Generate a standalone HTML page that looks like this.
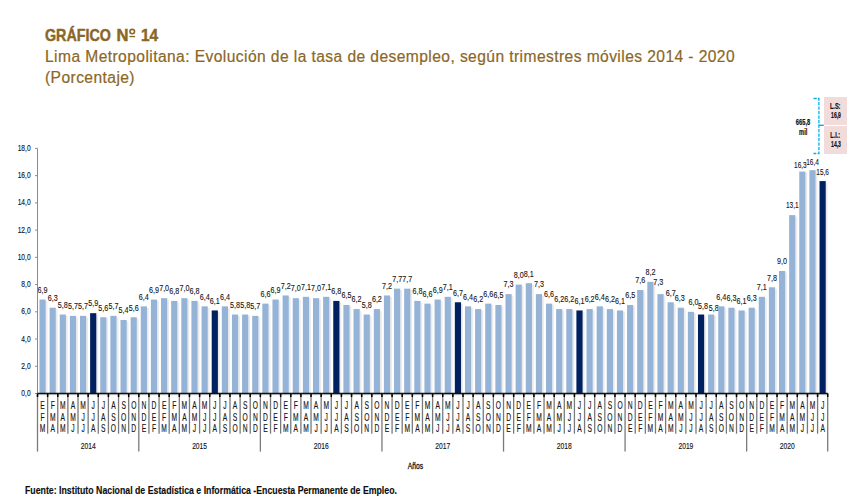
<!DOCTYPE html>
<html><head><meta charset="utf-8"><style>
html,body{margin:0;padding:0;background:#fff;}
body{width:860px;height:503px;overflow:hidden;position:relative;font-family:"Liberation Sans", sans-serif;}
.t{position:absolute;left:45px;color:#8a6726;white-space:nowrap;-webkit-text-stroke:0.2px #8a6726;font-family:"Liberation Sans", sans-serif;line-height:20px;}
#t1,.t1b{top:25.6px;font-size:16.6px;font-weight:bold;-webkit-text-stroke:0.45px #8a6726;transform-origin:0 0;}
#t1{transform:scaleX(0.86);}
#t2{top:46.6px;font-size:15.6px;letter-spacing:0.42px;}
#t3{top:67.6px;font-size:15.6px;letter-spacing:0.42px;}
svg{position:absolute;left:0;top:0;}
svg text{font-family:"Liberation Sans", sans-serif;}
</style></head><body>
<div class="t" id="t1">GRÁFICO</div><div class="t t1b" style="left:116.5px">N</div><div class="t t1b" style="left:140.6px;transform:scaleX(0.93)">14</div>
<div class="t" id="t2">Lima Metropolitana: Evolución de la tasa de desempleo, según trimestres móviles 2014 - 2020</div>
<div class="t" id="t3">(Porcentaje)</div>
<svg width="860" height="503" viewBox="0 0 860 503">
<rect x="45.67" y="301.04" width="1.8" height="92.46" fill="#ebebeb"/>
<rect x="39.47" y="299.54" width="6.2" height="93.96" fill="#95b3d7"/>
<text transform="translate(42.57,292.84) scale(0.75,1)" font-size="9.6" text-anchor="middle" font-weight="normal" fill="#141414" stroke="#141414" stroke-width="0.12">6,9</text>
<rect x="55.80" y="309.22" width="1.8" height="84.28" fill="#ebebeb"/>
<rect x="49.60" y="307.72" width="6.2" height="85.78" fill="#95b3d7"/>
<text transform="translate(52.70,301.02) scale(0.75,1)" font-size="9.6" text-anchor="middle" font-weight="normal" fill="#141414" stroke="#141414" stroke-width="0.12">6,3</text>
<rect x="65.93" y="316.02" width="1.8" height="77.48" fill="#ebebeb"/>
<rect x="59.73" y="314.52" width="6.2" height="78.98" fill="#95b3d7"/>
<text transform="translate(62.83,307.82) scale(0.75,1)" font-size="9.6" text-anchor="middle" font-weight="normal" fill="#141414" stroke="#141414" stroke-width="0.12">5,8</text>
<rect x="76.06" y="317.38" width="1.8" height="76.12" fill="#ebebeb"/>
<rect x="69.86" y="315.88" width="6.2" height="77.62" fill="#95b3d7"/>
<text transform="translate(72.96,309.19) scale(0.75,1)" font-size="9.6" text-anchor="middle" font-weight="normal" fill="#141414" stroke="#141414" stroke-width="0.12">5,7</text>
<rect x="86.19" y="317.38" width="1.8" height="76.12" fill="#ebebeb"/>
<rect x="79.99" y="315.88" width="6.2" height="77.62" fill="#95b3d7"/>
<text transform="translate(83.09,309.19) scale(0.75,1)" font-size="9.6" text-anchor="middle" font-weight="normal" fill="#141414" stroke="#141414" stroke-width="0.12">5,7</text>
<rect x="96.32" y="314.66" width="1.8" height="78.84" fill="#ebebeb"/>
<rect x="90.12" y="313.16" width="6.2" height="80.34" fill="#002060"/>
<text transform="translate(93.22,306.46) scale(0.75,1)" font-size="9.6" text-anchor="middle" font-weight="normal" fill="#141414" stroke="#141414" stroke-width="0.12">5,9</text>
<rect x="106.45" y="318.75" width="1.8" height="74.75" fill="#ebebeb"/>
<rect x="100.25" y="317.25" width="6.2" height="76.25" fill="#95b3d7"/>
<text transform="translate(103.35,310.55) scale(0.75,1)" font-size="9.6" text-anchor="middle" font-weight="normal" fill="#141414" stroke="#141414" stroke-width="0.12">5,6</text>
<rect x="116.58" y="317.38" width="1.8" height="76.12" fill="#ebebeb"/>
<rect x="110.38" y="315.88" width="6.2" height="77.62" fill="#95b3d7"/>
<text transform="translate(113.48,309.19) scale(0.75,1)" font-size="9.6" text-anchor="middle" font-weight="normal" fill="#141414" stroke="#141414" stroke-width="0.12">5,7</text>
<rect x="126.71" y="321.47" width="1.8" height="72.03" fill="#ebebeb"/>
<rect x="120.51" y="319.97" width="6.2" height="73.53" fill="#95b3d7"/>
<text transform="translate(123.61,313.27) scale(0.75,1)" font-size="9.6" text-anchor="middle" font-weight="normal" fill="#141414" stroke="#141414" stroke-width="0.12">5,4</text>
<rect x="136.84" y="318.75" width="1.8" height="74.75" fill="#ebebeb"/>
<rect x="130.64" y="317.25" width="6.2" height="76.25" fill="#95b3d7"/>
<text transform="translate(133.74,310.55) scale(0.75,1)" font-size="9.6" text-anchor="middle" font-weight="normal" fill="#141414" stroke="#141414" stroke-width="0.12">5,6</text>
<rect x="146.97" y="307.85" width="1.8" height="85.65" fill="#ebebeb"/>
<rect x="140.77" y="306.35" width="6.2" height="87.15" fill="#95b3d7"/>
<text transform="translate(143.87,299.65) scale(0.75,1)" font-size="9.6" text-anchor="middle" font-weight="normal" fill="#141414" stroke="#141414" stroke-width="0.12">6,4</text>
<rect x="157.10" y="301.04" width="1.8" height="92.46" fill="#ebebeb"/>
<rect x="150.90" y="299.54" width="6.2" height="93.96" fill="#95b3d7"/>
<text transform="translate(154.00,292.84) scale(0.75,1)" font-size="9.6" text-anchor="middle" font-weight="normal" fill="#141414" stroke="#141414" stroke-width="0.12">6,9</text>
<rect x="167.23" y="299.68" width="1.8" height="93.82" fill="#ebebeb"/>
<rect x="161.03" y="298.18" width="6.2" height="95.32" fill="#95b3d7"/>
<text transform="translate(164.13,291.48) scale(0.75,1)" font-size="9.6" text-anchor="middle" font-weight="normal" fill="#141414" stroke="#141414" stroke-width="0.12">7,0</text>
<rect x="177.37" y="302.41" width="1.8" height="91.09" fill="#ebebeb"/>
<rect x="171.17" y="300.91" width="6.2" height="92.59" fill="#95b3d7"/>
<text transform="translate(174.27,294.21) scale(0.75,1)" font-size="9.6" text-anchor="middle" font-weight="normal" fill="#141414" stroke="#141414" stroke-width="0.12">6,8</text>
<rect x="187.50" y="299.68" width="1.8" height="93.82" fill="#ebebeb"/>
<rect x="181.30" y="298.18" width="6.2" height="95.32" fill="#95b3d7"/>
<text transform="translate(184.40,291.48) scale(0.75,1)" font-size="9.6" text-anchor="middle" font-weight="normal" fill="#141414" stroke="#141414" stroke-width="0.12">7,0</text>
<rect x="197.63" y="302.41" width="1.8" height="91.09" fill="#ebebeb"/>
<rect x="191.43" y="300.91" width="6.2" height="92.59" fill="#95b3d7"/>
<text transform="translate(194.53,294.21) scale(0.75,1)" font-size="9.6" text-anchor="middle" font-weight="normal" fill="#141414" stroke="#141414" stroke-width="0.12">6,8</text>
<rect x="207.76" y="307.85" width="1.8" height="85.65" fill="#ebebeb"/>
<rect x="201.56" y="306.35" width="6.2" height="87.15" fill="#95b3d7"/>
<text transform="translate(204.66,299.65) scale(0.75,1)" font-size="9.6" text-anchor="middle" font-weight="normal" fill="#141414" stroke="#141414" stroke-width="0.12">6,4</text>
<rect x="217.89" y="311.94" width="1.8" height="81.56" fill="#ebebeb"/>
<rect x="211.69" y="310.44" width="6.2" height="83.06" fill="#002060"/>
<text transform="translate(214.79,303.74) scale(0.75,1)" font-size="9.6" text-anchor="middle" font-weight="normal" fill="#141414" stroke="#141414" stroke-width="0.12">6,1</text>
<rect x="228.02" y="307.85" width="1.8" height="85.65" fill="#ebebeb"/>
<rect x="221.82" y="306.35" width="6.2" height="87.15" fill="#95b3d7"/>
<text transform="translate(224.92,299.65) scale(0.75,1)" font-size="9.6" text-anchor="middle" font-weight="normal" fill="#141414" stroke="#141414" stroke-width="0.12">6,4</text>
<rect x="238.15" y="316.02" width="1.8" height="77.48" fill="#ebebeb"/>
<rect x="231.95" y="314.52" width="6.2" height="78.98" fill="#95b3d7"/>
<text transform="translate(235.05,307.82) scale(0.75,1)" font-size="9.6" text-anchor="middle" font-weight="normal" fill="#141414" stroke="#141414" stroke-width="0.12">5,8</text>
<rect x="248.28" y="316.02" width="1.8" height="77.48" fill="#ebebeb"/>
<rect x="242.08" y="314.52" width="6.2" height="78.98" fill="#95b3d7"/>
<text transform="translate(245.18,307.82) scale(0.75,1)" font-size="9.6" text-anchor="middle" font-weight="normal" fill="#141414" stroke="#141414" stroke-width="0.12">5,8</text>
<rect x="258.41" y="317.38" width="1.8" height="76.12" fill="#ebebeb"/>
<rect x="252.21" y="315.88" width="6.2" height="77.62" fill="#95b3d7"/>
<text transform="translate(255.31,309.19) scale(0.75,1)" font-size="9.6" text-anchor="middle" font-weight="normal" fill="#141414" stroke="#141414" stroke-width="0.12">5,7</text>
<rect x="268.54" y="305.13" width="1.8" height="88.37" fill="#ebebeb"/>
<rect x="262.34" y="303.63" width="6.2" height="89.87" fill="#95b3d7"/>
<text transform="translate(265.44,296.93) scale(0.75,1)" font-size="9.6" text-anchor="middle" font-weight="normal" fill="#141414" stroke="#141414" stroke-width="0.12">6,6</text>
<rect x="278.67" y="301.04" width="1.8" height="92.46" fill="#ebebeb"/>
<rect x="272.47" y="299.54" width="6.2" height="93.96" fill="#95b3d7"/>
<text transform="translate(275.57,292.84) scale(0.75,1)" font-size="9.6" text-anchor="middle" font-weight="normal" fill="#141414" stroke="#141414" stroke-width="0.12">6,9</text>
<rect x="288.80" y="296.96" width="1.8" height="96.54" fill="#ebebeb"/>
<rect x="282.60" y="295.46" width="6.2" height="98.04" fill="#95b3d7"/>
<text transform="translate(285.70,288.76) scale(0.75,1)" font-size="9.6" text-anchor="middle" font-weight="normal" fill="#141414" stroke="#141414" stroke-width="0.12">7,2</text>
<rect x="298.93" y="299.68" width="1.8" height="93.82" fill="#ebebeb"/>
<rect x="292.73" y="298.18" width="6.2" height="95.32" fill="#95b3d7"/>
<text transform="translate(295.83,291.48) scale(0.75,1)" font-size="9.6" text-anchor="middle" font-weight="normal" fill="#141414" stroke="#141414" stroke-width="0.12">7,0</text>
<rect x="309.07" y="298.32" width="1.8" height="95.18" fill="#ebebeb"/>
<rect x="302.87" y="296.82" width="6.2" height="96.68" fill="#95b3d7"/>
<text transform="translate(305.97,290.12) scale(0.75,1)" font-size="9.6" text-anchor="middle" font-weight="normal" fill="#141414" stroke="#141414" stroke-width="0.12">7,1</text>
<rect x="319.20" y="299.68" width="1.8" height="93.82" fill="#ebebeb"/>
<rect x="313.00" y="298.18" width="6.2" height="95.32" fill="#95b3d7"/>
<text transform="translate(316.10,291.48) scale(0.75,1)" font-size="9.6" text-anchor="middle" font-weight="normal" fill="#141414" stroke="#141414" stroke-width="0.12">7,0</text>
<rect x="329.33" y="298.32" width="1.8" height="95.18" fill="#ebebeb"/>
<rect x="323.13" y="296.82" width="6.2" height="96.68" fill="#95b3d7"/>
<text transform="translate(326.23,290.12) scale(0.75,1)" font-size="9.6" text-anchor="middle" font-weight="normal" fill="#141414" stroke="#141414" stroke-width="0.12">7,1</text>
<rect x="339.46" y="302.41" width="1.8" height="91.09" fill="#ebebeb"/>
<rect x="333.26" y="300.91" width="6.2" height="92.59" fill="#002060"/>
<text transform="translate(336.36,294.21) scale(0.75,1)" font-size="9.6" text-anchor="middle" font-weight="normal" fill="#141414" stroke="#141414" stroke-width="0.12">6,8</text>
<rect x="349.59" y="306.49" width="1.8" height="87.01" fill="#ebebeb"/>
<rect x="343.39" y="304.99" width="6.2" height="88.51" fill="#95b3d7"/>
<text transform="translate(346.49,298.29) scale(0.75,1)" font-size="9.6" text-anchor="middle" font-weight="normal" fill="#141414" stroke="#141414" stroke-width="0.12">6,5</text>
<rect x="359.72" y="310.58" width="1.8" height="82.92" fill="#ebebeb"/>
<rect x="353.52" y="309.08" width="6.2" height="84.42" fill="#95b3d7"/>
<text transform="translate(356.62,302.38) scale(0.75,1)" font-size="9.6" text-anchor="middle" font-weight="normal" fill="#141414" stroke="#141414" stroke-width="0.12">6,2</text>
<rect x="369.85" y="316.02" width="1.8" height="77.48" fill="#ebebeb"/>
<rect x="363.65" y="314.52" width="6.2" height="78.98" fill="#95b3d7"/>
<text transform="translate(366.75,307.82) scale(0.75,1)" font-size="9.6" text-anchor="middle" font-weight="normal" fill="#141414" stroke="#141414" stroke-width="0.12">5,8</text>
<rect x="379.98" y="310.58" width="1.8" height="82.92" fill="#ebebeb"/>
<rect x="373.78" y="309.08" width="6.2" height="84.42" fill="#95b3d7"/>
<text transform="translate(376.88,302.38) scale(0.75,1)" font-size="9.6" text-anchor="middle" font-weight="normal" fill="#141414" stroke="#141414" stroke-width="0.12">6,2</text>
<rect x="390.11" y="296.96" width="1.8" height="96.54" fill="#ebebeb"/>
<rect x="383.91" y="295.46" width="6.2" height="98.04" fill="#95b3d7"/>
<text transform="translate(387.01,288.76) scale(0.75,1)" font-size="9.6" text-anchor="middle" font-weight="normal" fill="#141414" stroke="#141414" stroke-width="0.12">7,2</text>
<rect x="400.24" y="290.15" width="1.8" height="103.35" fill="#ebebeb"/>
<rect x="394.04" y="288.65" width="6.2" height="104.85" fill="#95b3d7"/>
<text transform="translate(397.14,281.95) scale(0.75,1)" font-size="9.6" text-anchor="middle" font-weight="normal" fill="#141414" stroke="#141414" stroke-width="0.12">7,7</text>
<rect x="410.37" y="290.15" width="1.8" height="103.35" fill="#ebebeb"/>
<rect x="404.17" y="288.65" width="6.2" height="104.85" fill="#95b3d7"/>
<text transform="translate(407.27,281.95) scale(0.75,1)" font-size="9.6" text-anchor="middle" font-weight="normal" fill="#141414" stroke="#141414" stroke-width="0.12">7,7</text>
<rect x="420.50" y="302.41" width="1.8" height="91.09" fill="#ebebeb"/>
<rect x="414.30" y="300.91" width="6.2" height="92.59" fill="#95b3d7"/>
<text transform="translate(417.40,294.21) scale(0.75,1)" font-size="9.6" text-anchor="middle" font-weight="normal" fill="#141414" stroke="#141414" stroke-width="0.12">6,8</text>
<rect x="430.63" y="305.13" width="1.8" height="88.37" fill="#ebebeb"/>
<rect x="424.43" y="303.63" width="6.2" height="89.87" fill="#95b3d7"/>
<text transform="translate(427.53,296.93) scale(0.75,1)" font-size="9.6" text-anchor="middle" font-weight="normal" fill="#141414" stroke="#141414" stroke-width="0.12">6,6</text>
<rect x="440.77" y="301.04" width="1.8" height="92.46" fill="#ebebeb"/>
<rect x="434.57" y="299.54" width="6.2" height="93.96" fill="#95b3d7"/>
<text transform="translate(437.67,292.84) scale(0.75,1)" font-size="9.6" text-anchor="middle" font-weight="normal" fill="#141414" stroke="#141414" stroke-width="0.12">6,9</text>
<rect x="450.90" y="298.32" width="1.8" height="95.18" fill="#ebebeb"/>
<rect x="444.70" y="296.82" width="6.2" height="96.68" fill="#95b3d7"/>
<text transform="translate(447.80,290.12) scale(0.75,1)" font-size="9.6" text-anchor="middle" font-weight="normal" fill="#141414" stroke="#141414" stroke-width="0.12">7,1</text>
<rect x="461.03" y="303.77" width="1.8" height="89.73" fill="#ebebeb"/>
<rect x="454.83" y="302.27" width="6.2" height="91.23" fill="#002060"/>
<text transform="translate(457.93,295.57) scale(0.75,1)" font-size="9.6" text-anchor="middle" font-weight="normal" fill="#141414" stroke="#141414" stroke-width="0.12">6,7</text>
<rect x="471.16" y="307.85" width="1.8" height="85.65" fill="#ebebeb"/>
<rect x="464.96" y="306.35" width="6.2" height="87.15" fill="#95b3d7"/>
<text transform="translate(468.06,299.65) scale(0.75,1)" font-size="9.6" text-anchor="middle" font-weight="normal" fill="#141414" stroke="#141414" stroke-width="0.12">6,4</text>
<rect x="481.29" y="310.58" width="1.8" height="82.92" fill="#ebebeb"/>
<rect x="475.09" y="309.08" width="6.2" height="84.42" fill="#95b3d7"/>
<text transform="translate(478.19,302.38) scale(0.75,1)" font-size="9.6" text-anchor="middle" font-weight="normal" fill="#141414" stroke="#141414" stroke-width="0.12">6,2</text>
<rect x="491.42" y="305.13" width="1.8" height="88.37" fill="#ebebeb"/>
<rect x="485.22" y="303.63" width="6.2" height="89.87" fill="#95b3d7"/>
<text transform="translate(488.32,296.93) scale(0.75,1)" font-size="9.6" text-anchor="middle" font-weight="normal" fill="#141414" stroke="#141414" stroke-width="0.12">6,6</text>
<rect x="501.55" y="306.49" width="1.8" height="87.01" fill="#ebebeb"/>
<rect x="495.35" y="304.99" width="6.2" height="88.51" fill="#95b3d7"/>
<text transform="translate(498.45,298.29) scale(0.75,1)" font-size="9.6" text-anchor="middle" font-weight="normal" fill="#141414" stroke="#141414" stroke-width="0.12">6,5</text>
<rect x="511.68" y="295.60" width="1.8" height="97.90" fill="#ebebeb"/>
<rect x="505.48" y="294.10" width="6.2" height="99.40" fill="#95b3d7"/>
<text transform="translate(508.58,287.40) scale(0.75,1)" font-size="9.6" text-anchor="middle" font-weight="normal" fill="#141414" stroke="#141414" stroke-width="0.12">7,3</text>
<rect x="521.81" y="286.07" width="1.8" height="107.43" fill="#ebebeb"/>
<rect x="515.61" y="284.57" width="6.2" height="108.93" fill="#95b3d7"/>
<text transform="translate(518.71,277.87) scale(0.75,1)" font-size="9.6" text-anchor="middle" font-weight="normal" fill="#141414" stroke="#141414" stroke-width="0.12">8,0</text>
<rect x="531.94" y="284.70" width="1.8" height="108.80" fill="#ebebeb"/>
<rect x="525.74" y="283.20" width="6.2" height="110.30" fill="#95b3d7"/>
<text transform="translate(528.84,276.50) scale(0.75,1)" font-size="9.6" text-anchor="middle" font-weight="normal" fill="#141414" stroke="#141414" stroke-width="0.12">8,1</text>
<rect x="542.07" y="295.60" width="1.8" height="97.90" fill="#ebebeb"/>
<rect x="535.87" y="294.10" width="6.2" height="99.40" fill="#95b3d7"/>
<text transform="translate(538.97,287.40) scale(0.75,1)" font-size="9.6" text-anchor="middle" font-weight="normal" fill="#141414" stroke="#141414" stroke-width="0.12">7,3</text>
<rect x="552.20" y="305.13" width="1.8" height="88.37" fill="#ebebeb"/>
<rect x="546.00" y="303.63" width="6.2" height="89.87" fill="#95b3d7"/>
<text transform="translate(549.10,296.93) scale(0.75,1)" font-size="9.6" text-anchor="middle" font-weight="normal" fill="#141414" stroke="#141414" stroke-width="0.12">6,6</text>
<rect x="562.33" y="310.58" width="1.8" height="82.92" fill="#ebebeb"/>
<rect x="556.13" y="309.08" width="6.2" height="84.42" fill="#95b3d7"/>
<text transform="translate(559.23,302.38) scale(0.75,1)" font-size="9.6" text-anchor="middle" font-weight="normal" fill="#141414" stroke="#141414" stroke-width="0.12">6,2</text>
<rect x="572.47" y="310.58" width="1.8" height="82.92" fill="#ebebeb"/>
<rect x="566.27" y="309.08" width="6.2" height="84.42" fill="#95b3d7"/>
<text transform="translate(569.37,302.38) scale(0.75,1)" font-size="9.6" text-anchor="middle" font-weight="normal" fill="#141414" stroke="#141414" stroke-width="0.12">6,2</text>
<rect x="582.60" y="311.94" width="1.8" height="81.56" fill="#ebebeb"/>
<rect x="576.40" y="310.44" width="6.2" height="83.06" fill="#002060"/>
<text transform="translate(579.50,303.74) scale(0.75,1)" font-size="9.6" text-anchor="middle" font-weight="normal" fill="#141414" stroke="#141414" stroke-width="0.12">6,1</text>
<rect x="592.73" y="310.58" width="1.8" height="82.92" fill="#ebebeb"/>
<rect x="586.53" y="309.08" width="6.2" height="84.42" fill="#95b3d7"/>
<text transform="translate(589.63,302.38) scale(0.75,1)" font-size="9.6" text-anchor="middle" font-weight="normal" fill="#141414" stroke="#141414" stroke-width="0.12">6,2</text>
<rect x="602.86" y="307.85" width="1.8" height="85.65" fill="#ebebeb"/>
<rect x="596.66" y="306.35" width="6.2" height="87.15" fill="#95b3d7"/>
<text transform="translate(599.76,299.65) scale(0.75,1)" font-size="9.6" text-anchor="middle" font-weight="normal" fill="#141414" stroke="#141414" stroke-width="0.12">6,4</text>
<rect x="612.99" y="310.58" width="1.8" height="82.92" fill="#ebebeb"/>
<rect x="606.79" y="309.08" width="6.2" height="84.42" fill="#95b3d7"/>
<text transform="translate(609.89,302.38) scale(0.75,1)" font-size="9.6" text-anchor="middle" font-weight="normal" fill="#141414" stroke="#141414" stroke-width="0.12">6,2</text>
<rect x="623.12" y="311.94" width="1.8" height="81.56" fill="#ebebeb"/>
<rect x="616.92" y="310.44" width="6.2" height="83.06" fill="#95b3d7"/>
<text transform="translate(620.02,303.74) scale(0.75,1)" font-size="9.6" text-anchor="middle" font-weight="normal" fill="#141414" stroke="#141414" stroke-width="0.12">6,1</text>
<rect x="633.25" y="306.49" width="1.8" height="87.01" fill="#ebebeb"/>
<rect x="627.05" y="304.99" width="6.2" height="88.51" fill="#95b3d7"/>
<text transform="translate(630.15,298.29) scale(0.75,1)" font-size="9.6" text-anchor="middle" font-weight="normal" fill="#141414" stroke="#141414" stroke-width="0.12">6,5</text>
<rect x="643.38" y="291.51" width="1.8" height="101.99" fill="#ebebeb"/>
<rect x="637.18" y="290.01" width="6.2" height="103.49" fill="#95b3d7"/>
<text transform="translate(640.28,283.31) scale(0.75,1)" font-size="9.6" text-anchor="middle" font-weight="normal" fill="#141414" stroke="#141414" stroke-width="0.12">7,6</text>
<rect x="653.51" y="283.34" width="1.8" height="110.16" fill="#ebebeb"/>
<rect x="647.31" y="281.84" width="6.2" height="111.66" fill="#95b3d7"/>
<text transform="translate(650.41,275.14) scale(0.75,1)" font-size="9.6" text-anchor="middle" font-weight="normal" fill="#141414" stroke="#141414" stroke-width="0.12">8,2</text>
<rect x="663.64" y="295.60" width="1.8" height="97.90" fill="#ebebeb"/>
<rect x="657.44" y="294.10" width="6.2" height="99.40" fill="#95b3d7"/>
<text transform="translate(658.14,285.40) scale(0.75,1)" font-size="9.6" text-anchor="middle" font-weight="normal" fill="#141414" stroke="#141414" stroke-width="0.12">7,3</text>
<rect x="673.77" y="303.77" width="1.8" height="89.73" fill="#ebebeb"/>
<rect x="667.57" y="302.27" width="6.2" height="91.23" fill="#95b3d7"/>
<text transform="translate(670.67,295.57) scale(0.75,1)" font-size="9.6" text-anchor="middle" font-weight="normal" fill="#141414" stroke="#141414" stroke-width="0.12">6,7</text>
<rect x="683.90" y="309.22" width="1.8" height="84.28" fill="#ebebeb"/>
<rect x="677.70" y="307.72" width="6.2" height="85.78" fill="#95b3d7"/>
<text transform="translate(679.80,301.02) scale(0.75,1)" font-size="9.6" text-anchor="middle" font-weight="normal" fill="#141414" stroke="#141414" stroke-width="0.12">6,3</text>
<rect x="694.03" y="313.30" width="1.8" height="80.20" fill="#ebebeb"/>
<rect x="687.83" y="311.80" width="6.2" height="81.70" fill="#95b3d7"/>
<text transform="translate(693.43,304.80) scale(0.75,1)" font-size="9.6" text-anchor="middle" font-weight="normal" fill="#141414" stroke="#141414" stroke-width="0.12">6,0</text>
<rect x="704.17" y="316.02" width="1.8" height="77.48" fill="#ebebeb"/>
<rect x="697.97" y="314.52" width="6.2" height="78.98" fill="#002060"/>
<text transform="translate(703.07,308.82) scale(0.75,1)" font-size="9.6" text-anchor="middle" font-weight="normal" fill="#141414" stroke="#141414" stroke-width="0.12">5,8</text>
<rect x="714.30" y="316.02" width="1.8" height="77.48" fill="#ebebeb"/>
<rect x="708.10" y="314.52" width="6.2" height="78.98" fill="#95b3d7"/>
<text transform="translate(713.70,310.82) scale(0.75,1)" font-size="9.6" text-anchor="middle" font-weight="normal" fill="#141414" stroke="#141414" stroke-width="0.12">5,8</text>
<rect x="724.43" y="307.85" width="1.8" height="85.65" fill="#ebebeb"/>
<rect x="718.23" y="306.35" width="6.2" height="87.15" fill="#95b3d7"/>
<text transform="translate(721.33,299.65) scale(0.75,1)" font-size="9.6" text-anchor="middle" font-weight="normal" fill="#141414" stroke="#141414" stroke-width="0.12">6,4</text>
<rect x="734.56" y="309.22" width="1.8" height="84.28" fill="#ebebeb"/>
<rect x="728.36" y="307.72" width="6.2" height="85.78" fill="#95b3d7"/>
<text transform="translate(731.46,301.02) scale(0.75,1)" font-size="9.6" text-anchor="middle" font-weight="normal" fill="#141414" stroke="#141414" stroke-width="0.12">6,3</text>
<rect x="744.69" y="311.94" width="1.8" height="81.56" fill="#ebebeb"/>
<rect x="738.49" y="310.44" width="6.2" height="83.06" fill="#95b3d7"/>
<text transform="translate(741.59,303.74) scale(0.75,1)" font-size="9.6" text-anchor="middle" font-weight="normal" fill="#141414" stroke="#141414" stroke-width="0.12">6,1</text>
<rect x="754.82" y="309.22" width="1.8" height="84.28" fill="#ebebeb"/>
<rect x="748.62" y="307.72" width="6.2" height="85.78" fill="#95b3d7"/>
<text transform="translate(751.72,301.02) scale(0.75,1)" font-size="9.6" text-anchor="middle" font-weight="normal" fill="#141414" stroke="#141414" stroke-width="0.12">6,3</text>
<rect x="764.95" y="298.32" width="1.8" height="95.18" fill="#ebebeb"/>
<rect x="758.75" y="296.82" width="6.2" height="96.68" fill="#95b3d7"/>
<text transform="translate(761.85,290.12) scale(0.75,1)" font-size="9.6" text-anchor="middle" font-weight="normal" fill="#141414" stroke="#141414" stroke-width="0.12">7,1</text>
<rect x="775.08" y="288.79" width="1.8" height="104.71" fill="#ebebeb"/>
<rect x="768.88" y="287.29" width="6.2" height="106.21" fill="#95b3d7"/>
<text transform="translate(771.98,280.59) scale(0.75,1)" font-size="9.6" text-anchor="middle" font-weight="normal" fill="#141414" stroke="#141414" stroke-width="0.12">7,8</text>
<rect x="785.21" y="272.45" width="1.8" height="121.05" fill="#ebebeb"/>
<rect x="779.01" y="270.95" width="6.2" height="122.55" fill="#95b3d7"/>
<text transform="translate(782.11,264.25) scale(0.75,1)" font-size="9.6" text-anchor="middle" font-weight="normal" fill="#141414" stroke="#141414" stroke-width="0.12">9,0</text>
<rect x="795.34" y="216.62" width="1.8" height="176.88" fill="#ebebeb"/>
<rect x="789.14" y="215.12" width="6.2" height="178.38" fill="#95b3d7"/>
<text transform="translate(792.24,208.42) scale(0.68,1)" font-size="9.6" text-anchor="middle" font-weight="normal" fill="#141414" stroke="#141414" stroke-width="0.12">13,1</text>
<rect x="805.47" y="173.05" width="1.8" height="220.45" fill="#ebebeb"/>
<rect x="799.27" y="171.55" width="6.2" height="221.95" fill="#95b3d7"/>
<text transform="translate(800.37,167.55) scale(0.68,1)" font-size="9.6" text-anchor="middle" font-weight="normal" fill="#141414" stroke="#141414" stroke-width="0.12">16,3</text>
<rect x="815.60" y="171.69" width="1.8" height="221.81" fill="#ebebeb"/>
<rect x="809.40" y="170.19" width="6.2" height="223.31" fill="#95b3d7"/>
<text transform="translate(812.50,164.69) scale(0.68,1)" font-size="9.6" text-anchor="middle" font-weight="normal" fill="#141414" stroke="#141414" stroke-width="0.12">16,4</text>
<rect x="825.73" y="182.58" width="1.8" height="210.92" fill="#ebebeb"/>
<rect x="819.53" y="181.08" width="6.2" height="212.42" fill="#002060"/>
<text transform="translate(822.63,175.48) scale(0.68,1)" font-size="9.6" text-anchor="middle" font-weight="normal" fill="#141414" stroke="#141414" stroke-width="0.12">15,6</text>
<line x1="37.5" y1="148.4" x2="37.5" y2="393.5" stroke="#8c8c8c" stroke-width="1"/>
<line x1="35.0" y1="393.50" x2="37.5" y2="393.50" stroke="#8c8c8c" stroke-width="1"/>
<text transform="translate(30.60,396.10) scale(0.74,1)" font-size="9.0" text-anchor="end" font-weight="normal" fill="#141414" stroke="#141414" stroke-width="0.15">0,0</text>
<line x1="35.0" y1="366.27" x2="37.5" y2="366.27" stroke="#8c8c8c" stroke-width="1"/>
<text transform="translate(30.60,368.87) scale(0.74,1)" font-size="9.0" text-anchor="end" font-weight="normal" fill="#141414" stroke="#141414" stroke-width="0.15">2,0</text>
<line x1="35.0" y1="339.03" x2="37.5" y2="339.03" stroke="#8c8c8c" stroke-width="1"/>
<text transform="translate(30.60,341.63) scale(0.74,1)" font-size="9.0" text-anchor="end" font-weight="normal" fill="#141414" stroke="#141414" stroke-width="0.15">4,0</text>
<line x1="35.0" y1="311.80" x2="37.5" y2="311.80" stroke="#8c8c8c" stroke-width="1"/>
<text transform="translate(30.60,314.40) scale(0.74,1)" font-size="9.0" text-anchor="end" font-weight="normal" fill="#141414" stroke="#141414" stroke-width="0.15">6,0</text>
<line x1="35.0" y1="284.57" x2="37.5" y2="284.57" stroke="#8c8c8c" stroke-width="1"/>
<text transform="translate(30.60,287.17) scale(0.74,1)" font-size="9.0" text-anchor="end" font-weight="normal" fill="#141414" stroke="#141414" stroke-width="0.15">8,0</text>
<line x1="35.0" y1="257.33" x2="37.5" y2="257.33" stroke="#8c8c8c" stroke-width="1"/>
<text transform="translate(30.60,259.93) scale(0.74,1)" font-size="9.0" text-anchor="end" font-weight="normal" fill="#141414" stroke="#141414" stroke-width="0.15">10,0</text>
<line x1="35.0" y1="230.10" x2="37.5" y2="230.10" stroke="#8c8c8c" stroke-width="1"/>
<text transform="translate(30.60,232.70) scale(0.74,1)" font-size="9.0" text-anchor="end" font-weight="normal" fill="#141414" stroke="#141414" stroke-width="0.15">12,0</text>
<line x1="35.0" y1="202.87" x2="37.5" y2="202.87" stroke="#8c8c8c" stroke-width="1"/>
<text transform="translate(30.60,205.47) scale(0.74,1)" font-size="9.0" text-anchor="end" font-weight="normal" fill="#141414" stroke="#141414" stroke-width="0.15">14,0</text>
<line x1="35.0" y1="175.63" x2="37.5" y2="175.63" stroke="#8c8c8c" stroke-width="1"/>
<text transform="translate(30.60,178.23) scale(0.74,1)" font-size="9.0" text-anchor="end" font-weight="normal" fill="#141414" stroke="#141414" stroke-width="0.15">16,0</text>
<line x1="35.0" y1="148.40" x2="37.5" y2="148.40" stroke="#8c8c8c" stroke-width="1"/>
<text transform="translate(30.60,151.00) scale(0.74,1)" font-size="9.0" text-anchor="end" font-weight="normal" fill="#141414" stroke="#141414" stroke-width="0.15">18,0</text>
<line x1="37.5" y1="394.7" x2="827.7" y2="394.7" stroke="#c8c8c8" stroke-width="0.8"/>
<line x1="37.50" y1="393.5" x2="37.50" y2="451.6" stroke="#7a7a7a" stroke-width="1.3"/>
<line x1="37.50" y1="393.5" x2="37.50" y2="397.0" stroke="#000" stroke-width="1.5"/>
<line x1="47.63" y1="393.5" x2="47.63" y2="433.7" stroke="#7a7a7a" stroke-width="1.3"/>
<line x1="47.63" y1="393.5" x2="47.63" y2="397.0" stroke="#000" stroke-width="1.5"/>
<line x1="57.76" y1="393.5" x2="57.76" y2="433.7" stroke="#7a7a7a" stroke-width="1.3"/>
<line x1="57.76" y1="393.5" x2="57.76" y2="397.0" stroke="#000" stroke-width="1.5"/>
<line x1="67.89" y1="393.5" x2="67.89" y2="433.7" stroke="#7a7a7a" stroke-width="1.3"/>
<line x1="67.89" y1="393.5" x2="67.89" y2="397.0" stroke="#000" stroke-width="1.5"/>
<line x1="78.02" y1="393.5" x2="78.02" y2="433.7" stroke="#7a7a7a" stroke-width="1.3"/>
<line x1="78.02" y1="393.5" x2="78.02" y2="397.0" stroke="#000" stroke-width="1.5"/>
<line x1="88.15" y1="393.5" x2="88.15" y2="433.7" stroke="#7a7a7a" stroke-width="1.3"/>
<line x1="88.15" y1="393.5" x2="88.15" y2="397.0" stroke="#000" stroke-width="1.5"/>
<line x1="98.28" y1="393.5" x2="98.28" y2="433.7" stroke="#7a7a7a" stroke-width="1.3"/>
<line x1="98.28" y1="393.5" x2="98.28" y2="397.0" stroke="#000" stroke-width="1.5"/>
<line x1="108.42" y1="393.5" x2="108.42" y2="433.7" stroke="#7a7a7a" stroke-width="1.3"/>
<line x1="108.42" y1="393.5" x2="108.42" y2="397.0" stroke="#000" stroke-width="1.5"/>
<line x1="118.55" y1="393.5" x2="118.55" y2="433.7" stroke="#7a7a7a" stroke-width="1.3"/>
<line x1="118.55" y1="393.5" x2="118.55" y2="397.0" stroke="#000" stroke-width="1.5"/>
<line x1="128.68" y1="393.5" x2="128.68" y2="433.7" stroke="#7a7a7a" stroke-width="1.3"/>
<line x1="128.68" y1="393.5" x2="128.68" y2="397.0" stroke="#000" stroke-width="1.5"/>
<line x1="138.81" y1="393.5" x2="138.81" y2="451.6" stroke="#7a7a7a" stroke-width="1.3"/>
<line x1="138.81" y1="393.5" x2="138.81" y2="397.0" stroke="#000" stroke-width="1.5"/>
<line x1="148.94" y1="393.5" x2="148.94" y2="433.7" stroke="#7a7a7a" stroke-width="1.3"/>
<line x1="148.94" y1="393.5" x2="148.94" y2="397.0" stroke="#000" stroke-width="1.5"/>
<line x1="159.07" y1="393.5" x2="159.07" y2="433.7" stroke="#7a7a7a" stroke-width="1.3"/>
<line x1="159.07" y1="393.5" x2="159.07" y2="397.0" stroke="#000" stroke-width="1.5"/>
<line x1="169.20" y1="393.5" x2="169.20" y2="433.7" stroke="#7a7a7a" stroke-width="1.3"/>
<line x1="169.20" y1="393.5" x2="169.20" y2="397.0" stroke="#000" stroke-width="1.5"/>
<line x1="179.33" y1="393.5" x2="179.33" y2="433.7" stroke="#7a7a7a" stroke-width="1.3"/>
<line x1="179.33" y1="393.5" x2="179.33" y2="397.0" stroke="#000" stroke-width="1.5"/>
<line x1="189.46" y1="393.5" x2="189.46" y2="433.7" stroke="#7a7a7a" stroke-width="1.3"/>
<line x1="189.46" y1="393.5" x2="189.46" y2="397.0" stroke="#000" stroke-width="1.5"/>
<line x1="199.59" y1="393.5" x2="199.59" y2="433.7" stroke="#7a7a7a" stroke-width="1.3"/>
<line x1="199.59" y1="393.5" x2="199.59" y2="397.0" stroke="#000" stroke-width="1.5"/>
<line x1="209.72" y1="393.5" x2="209.72" y2="433.7" stroke="#7a7a7a" stroke-width="1.3"/>
<line x1="209.72" y1="393.5" x2="209.72" y2="397.0" stroke="#000" stroke-width="1.5"/>
<line x1="219.85" y1="393.5" x2="219.85" y2="433.7" stroke="#7a7a7a" stroke-width="1.3"/>
<line x1="219.85" y1="393.5" x2="219.85" y2="397.0" stroke="#000" stroke-width="1.5"/>
<line x1="229.98" y1="393.5" x2="229.98" y2="433.7" stroke="#7a7a7a" stroke-width="1.3"/>
<line x1="229.98" y1="393.5" x2="229.98" y2="397.0" stroke="#000" stroke-width="1.5"/>
<line x1="240.12" y1="393.5" x2="240.12" y2="433.7" stroke="#7a7a7a" stroke-width="1.3"/>
<line x1="240.12" y1="393.5" x2="240.12" y2="397.0" stroke="#000" stroke-width="1.5"/>
<line x1="250.25" y1="393.5" x2="250.25" y2="433.7" stroke="#7a7a7a" stroke-width="1.3"/>
<line x1="250.25" y1="393.5" x2="250.25" y2="397.0" stroke="#000" stroke-width="1.5"/>
<line x1="260.38" y1="393.5" x2="260.38" y2="451.6" stroke="#7a7a7a" stroke-width="1.3"/>
<line x1="260.38" y1="393.5" x2="260.38" y2="397.0" stroke="#000" stroke-width="1.5"/>
<line x1="270.51" y1="393.5" x2="270.51" y2="433.7" stroke="#7a7a7a" stroke-width="1.3"/>
<line x1="270.51" y1="393.5" x2="270.51" y2="397.0" stroke="#000" stroke-width="1.5"/>
<line x1="280.64" y1="393.5" x2="280.64" y2="433.7" stroke="#7a7a7a" stroke-width="1.3"/>
<line x1="280.64" y1="393.5" x2="280.64" y2="397.0" stroke="#000" stroke-width="1.5"/>
<line x1="290.77" y1="393.5" x2="290.77" y2="433.7" stroke="#7a7a7a" stroke-width="1.3"/>
<line x1="290.77" y1="393.5" x2="290.77" y2="397.0" stroke="#000" stroke-width="1.5"/>
<line x1="300.90" y1="393.5" x2="300.90" y2="433.7" stroke="#7a7a7a" stroke-width="1.3"/>
<line x1="300.90" y1="393.5" x2="300.90" y2="397.0" stroke="#000" stroke-width="1.5"/>
<line x1="311.03" y1="393.5" x2="311.03" y2="433.7" stroke="#7a7a7a" stroke-width="1.3"/>
<line x1="311.03" y1="393.5" x2="311.03" y2="397.0" stroke="#000" stroke-width="1.5"/>
<line x1="321.16" y1="393.5" x2="321.16" y2="433.7" stroke="#7a7a7a" stroke-width="1.3"/>
<line x1="321.16" y1="393.5" x2="321.16" y2="397.0" stroke="#000" stroke-width="1.5"/>
<line x1="331.29" y1="393.5" x2="331.29" y2="433.7" stroke="#7a7a7a" stroke-width="1.3"/>
<line x1="331.29" y1="393.5" x2="331.29" y2="397.0" stroke="#000" stroke-width="1.5"/>
<line x1="341.42" y1="393.5" x2="341.42" y2="433.7" stroke="#7a7a7a" stroke-width="1.3"/>
<line x1="341.42" y1="393.5" x2="341.42" y2="397.0" stroke="#000" stroke-width="1.5"/>
<line x1="351.55" y1="393.5" x2="351.55" y2="433.7" stroke="#7a7a7a" stroke-width="1.3"/>
<line x1="351.55" y1="393.5" x2="351.55" y2="397.0" stroke="#000" stroke-width="1.5"/>
<line x1="361.68" y1="393.5" x2="361.68" y2="433.7" stroke="#7a7a7a" stroke-width="1.3"/>
<line x1="361.68" y1="393.5" x2="361.68" y2="397.0" stroke="#000" stroke-width="1.5"/>
<line x1="371.82" y1="393.5" x2="371.82" y2="433.7" stroke="#7a7a7a" stroke-width="1.3"/>
<line x1="371.82" y1="393.5" x2="371.82" y2="397.0" stroke="#000" stroke-width="1.5"/>
<line x1="381.95" y1="393.5" x2="381.95" y2="451.6" stroke="#7a7a7a" stroke-width="1.3"/>
<line x1="381.95" y1="393.5" x2="381.95" y2="397.0" stroke="#000" stroke-width="1.5"/>
<line x1="392.08" y1="393.5" x2="392.08" y2="433.7" stroke="#7a7a7a" stroke-width="1.3"/>
<line x1="392.08" y1="393.5" x2="392.08" y2="397.0" stroke="#000" stroke-width="1.5"/>
<line x1="402.21" y1="393.5" x2="402.21" y2="433.7" stroke="#7a7a7a" stroke-width="1.3"/>
<line x1="402.21" y1="393.5" x2="402.21" y2="397.0" stroke="#000" stroke-width="1.5"/>
<line x1="412.34" y1="393.5" x2="412.34" y2="433.7" stroke="#7a7a7a" stroke-width="1.3"/>
<line x1="412.34" y1="393.5" x2="412.34" y2="397.0" stroke="#000" stroke-width="1.5"/>
<line x1="422.47" y1="393.5" x2="422.47" y2="433.7" stroke="#7a7a7a" stroke-width="1.3"/>
<line x1="422.47" y1="393.5" x2="422.47" y2="397.0" stroke="#000" stroke-width="1.5"/>
<line x1="432.60" y1="393.5" x2="432.60" y2="433.7" stroke="#7a7a7a" stroke-width="1.3"/>
<line x1="432.60" y1="393.5" x2="432.60" y2="397.0" stroke="#000" stroke-width="1.5"/>
<line x1="442.73" y1="393.5" x2="442.73" y2="433.7" stroke="#7a7a7a" stroke-width="1.3"/>
<line x1="442.73" y1="393.5" x2="442.73" y2="397.0" stroke="#000" stroke-width="1.5"/>
<line x1="452.86" y1="393.5" x2="452.86" y2="433.7" stroke="#7a7a7a" stroke-width="1.3"/>
<line x1="452.86" y1="393.5" x2="452.86" y2="397.0" stroke="#000" stroke-width="1.5"/>
<line x1="462.99" y1="393.5" x2="462.99" y2="433.7" stroke="#7a7a7a" stroke-width="1.3"/>
<line x1="462.99" y1="393.5" x2="462.99" y2="397.0" stroke="#000" stroke-width="1.5"/>
<line x1="473.12" y1="393.5" x2="473.12" y2="433.7" stroke="#7a7a7a" stroke-width="1.3"/>
<line x1="473.12" y1="393.5" x2="473.12" y2="397.0" stroke="#000" stroke-width="1.5"/>
<line x1="483.25" y1="393.5" x2="483.25" y2="433.7" stroke="#7a7a7a" stroke-width="1.3"/>
<line x1="483.25" y1="393.5" x2="483.25" y2="397.0" stroke="#000" stroke-width="1.5"/>
<line x1="493.38" y1="393.5" x2="493.38" y2="433.7" stroke="#7a7a7a" stroke-width="1.3"/>
<line x1="493.38" y1="393.5" x2="493.38" y2="397.0" stroke="#000" stroke-width="1.5"/>
<line x1="503.52" y1="393.5" x2="503.52" y2="451.6" stroke="#7a7a7a" stroke-width="1.3"/>
<line x1="503.52" y1="393.5" x2="503.52" y2="397.0" stroke="#000" stroke-width="1.5"/>
<line x1="513.65" y1="393.5" x2="513.65" y2="433.7" stroke="#7a7a7a" stroke-width="1.3"/>
<line x1="513.65" y1="393.5" x2="513.65" y2="397.0" stroke="#000" stroke-width="1.5"/>
<line x1="523.78" y1="393.5" x2="523.78" y2="433.7" stroke="#7a7a7a" stroke-width="1.3"/>
<line x1="523.78" y1="393.5" x2="523.78" y2="397.0" stroke="#000" stroke-width="1.5"/>
<line x1="533.91" y1="393.5" x2="533.91" y2="433.7" stroke="#7a7a7a" stroke-width="1.3"/>
<line x1="533.91" y1="393.5" x2="533.91" y2="397.0" stroke="#000" stroke-width="1.5"/>
<line x1="544.04" y1="393.5" x2="544.04" y2="433.7" stroke="#7a7a7a" stroke-width="1.3"/>
<line x1="544.04" y1="393.5" x2="544.04" y2="397.0" stroke="#000" stroke-width="1.5"/>
<line x1="554.17" y1="393.5" x2="554.17" y2="433.7" stroke="#7a7a7a" stroke-width="1.3"/>
<line x1="554.17" y1="393.5" x2="554.17" y2="397.0" stroke="#000" stroke-width="1.5"/>
<line x1="564.30" y1="393.5" x2="564.30" y2="433.7" stroke="#7a7a7a" stroke-width="1.3"/>
<line x1="564.30" y1="393.5" x2="564.30" y2="397.0" stroke="#000" stroke-width="1.5"/>
<line x1="574.43" y1="393.5" x2="574.43" y2="433.7" stroke="#7a7a7a" stroke-width="1.3"/>
<line x1="574.43" y1="393.5" x2="574.43" y2="397.0" stroke="#000" stroke-width="1.5"/>
<line x1="584.56" y1="393.5" x2="584.56" y2="433.7" stroke="#7a7a7a" stroke-width="1.3"/>
<line x1="584.56" y1="393.5" x2="584.56" y2="397.0" stroke="#000" stroke-width="1.5"/>
<line x1="594.69" y1="393.5" x2="594.69" y2="433.7" stroke="#7a7a7a" stroke-width="1.3"/>
<line x1="594.69" y1="393.5" x2="594.69" y2="397.0" stroke="#000" stroke-width="1.5"/>
<line x1="604.82" y1="393.5" x2="604.82" y2="433.7" stroke="#7a7a7a" stroke-width="1.3"/>
<line x1="604.82" y1="393.5" x2="604.82" y2="397.0" stroke="#000" stroke-width="1.5"/>
<line x1="614.95" y1="393.5" x2="614.95" y2="433.7" stroke="#7a7a7a" stroke-width="1.3"/>
<line x1="614.95" y1="393.5" x2="614.95" y2="397.0" stroke="#000" stroke-width="1.5"/>
<line x1="625.08" y1="393.5" x2="625.08" y2="451.6" stroke="#7a7a7a" stroke-width="1.3"/>
<line x1="625.08" y1="393.5" x2="625.08" y2="397.0" stroke="#000" stroke-width="1.5"/>
<line x1="635.22" y1="393.5" x2="635.22" y2="433.7" stroke="#7a7a7a" stroke-width="1.3"/>
<line x1="635.22" y1="393.5" x2="635.22" y2="397.0" stroke="#000" stroke-width="1.5"/>
<line x1="645.35" y1="393.5" x2="645.35" y2="433.7" stroke="#7a7a7a" stroke-width="1.3"/>
<line x1="645.35" y1="393.5" x2="645.35" y2="397.0" stroke="#000" stroke-width="1.5"/>
<line x1="655.48" y1="393.5" x2="655.48" y2="433.7" stroke="#7a7a7a" stroke-width="1.3"/>
<line x1="655.48" y1="393.5" x2="655.48" y2="397.0" stroke="#000" stroke-width="1.5"/>
<line x1="665.61" y1="393.5" x2="665.61" y2="433.7" stroke="#7a7a7a" stroke-width="1.3"/>
<line x1="665.61" y1="393.5" x2="665.61" y2="397.0" stroke="#000" stroke-width="1.5"/>
<line x1="675.74" y1="393.5" x2="675.74" y2="433.7" stroke="#7a7a7a" stroke-width="1.3"/>
<line x1="675.74" y1="393.5" x2="675.74" y2="397.0" stroke="#000" stroke-width="1.5"/>
<line x1="685.87" y1="393.5" x2="685.87" y2="433.7" stroke="#7a7a7a" stroke-width="1.3"/>
<line x1="685.87" y1="393.5" x2="685.87" y2="397.0" stroke="#000" stroke-width="1.5"/>
<line x1="696.00" y1="393.5" x2="696.00" y2="433.7" stroke="#7a7a7a" stroke-width="1.3"/>
<line x1="696.00" y1="393.5" x2="696.00" y2="397.0" stroke="#000" stroke-width="1.5"/>
<line x1="706.13" y1="393.5" x2="706.13" y2="433.7" stroke="#7a7a7a" stroke-width="1.3"/>
<line x1="706.13" y1="393.5" x2="706.13" y2="397.0" stroke="#000" stroke-width="1.5"/>
<line x1="716.26" y1="393.5" x2="716.26" y2="433.7" stroke="#7a7a7a" stroke-width="1.3"/>
<line x1="716.26" y1="393.5" x2="716.26" y2="397.0" stroke="#000" stroke-width="1.5"/>
<line x1="726.39" y1="393.5" x2="726.39" y2="433.7" stroke="#7a7a7a" stroke-width="1.3"/>
<line x1="726.39" y1="393.5" x2="726.39" y2="397.0" stroke="#000" stroke-width="1.5"/>
<line x1="736.52" y1="393.5" x2="736.52" y2="433.7" stroke="#7a7a7a" stroke-width="1.3"/>
<line x1="736.52" y1="393.5" x2="736.52" y2="397.0" stroke="#000" stroke-width="1.5"/>
<line x1="746.65" y1="393.5" x2="746.65" y2="451.6" stroke="#7a7a7a" stroke-width="1.3"/>
<line x1="746.65" y1="393.5" x2="746.65" y2="397.0" stroke="#000" stroke-width="1.5"/>
<line x1="756.78" y1="393.5" x2="756.78" y2="433.7" stroke="#7a7a7a" stroke-width="1.3"/>
<line x1="756.78" y1="393.5" x2="756.78" y2="397.0" stroke="#000" stroke-width="1.5"/>
<line x1="766.92" y1="393.5" x2="766.92" y2="433.7" stroke="#7a7a7a" stroke-width="1.3"/>
<line x1="766.92" y1="393.5" x2="766.92" y2="397.0" stroke="#000" stroke-width="1.5"/>
<line x1="777.05" y1="393.5" x2="777.05" y2="433.7" stroke="#7a7a7a" stroke-width="1.3"/>
<line x1="777.05" y1="393.5" x2="777.05" y2="397.0" stroke="#000" stroke-width="1.5"/>
<line x1="787.18" y1="393.5" x2="787.18" y2="433.7" stroke="#7a7a7a" stroke-width="1.3"/>
<line x1="787.18" y1="393.5" x2="787.18" y2="397.0" stroke="#000" stroke-width="1.5"/>
<line x1="797.31" y1="393.5" x2="797.31" y2="433.7" stroke="#7a7a7a" stroke-width="1.3"/>
<line x1="797.31" y1="393.5" x2="797.31" y2="397.0" stroke="#000" stroke-width="1.5"/>
<line x1="807.44" y1="393.5" x2="807.44" y2="433.7" stroke="#7a7a7a" stroke-width="1.3"/>
<line x1="807.44" y1="393.5" x2="807.44" y2="397.0" stroke="#000" stroke-width="1.5"/>
<line x1="817.57" y1="393.5" x2="817.57" y2="433.7" stroke="#7a7a7a" stroke-width="1.3"/>
<line x1="817.57" y1="393.5" x2="817.57" y2="397.0" stroke="#000" stroke-width="1.5"/>
<line x1="827.70" y1="393.5" x2="827.70" y2="451.6" stroke="#7a7a7a" stroke-width="1.3"/>
<line x1="827.70" y1="393.5" x2="827.70" y2="397.0" stroke="#000" stroke-width="1.5"/>
<text transform="translate(42.57,409.20) scale(0.67,1)" font-size="10.0" text-anchor="middle" font-weight="normal" fill="#141414" stroke="#141414" stroke-width="0.15">E</text>
<text transform="translate(42.57,420.55) scale(0.67,1)" font-size="10.0" text-anchor="middle" font-weight="normal" fill="#141414" stroke="#141414" stroke-width="0.15">F</text>
<text transform="translate(42.57,431.90) scale(0.67,1)" font-size="10.0" text-anchor="middle" font-weight="normal" fill="#141414" stroke="#141414" stroke-width="0.15">M</text>
<text transform="translate(52.70,409.20) scale(0.67,1)" font-size="10.0" text-anchor="middle" font-weight="normal" fill="#141414" stroke="#141414" stroke-width="0.15">F</text>
<text transform="translate(52.70,420.55) scale(0.67,1)" font-size="10.0" text-anchor="middle" font-weight="normal" fill="#141414" stroke="#141414" stroke-width="0.15">M</text>
<text transform="translate(52.70,431.90) scale(0.67,1)" font-size="10.0" text-anchor="middle" font-weight="normal" fill="#141414" stroke="#141414" stroke-width="0.15">A</text>
<text transform="translate(62.83,409.20) scale(0.67,1)" font-size="10.0" text-anchor="middle" font-weight="normal" fill="#141414" stroke="#141414" stroke-width="0.15">M</text>
<text transform="translate(62.83,420.55) scale(0.67,1)" font-size="10.0" text-anchor="middle" font-weight="normal" fill="#141414" stroke="#141414" stroke-width="0.15">A</text>
<text transform="translate(62.83,431.90) scale(0.67,1)" font-size="10.0" text-anchor="middle" font-weight="normal" fill="#141414" stroke="#141414" stroke-width="0.15">M</text>
<text transform="translate(72.96,409.20) scale(0.67,1)" font-size="10.0" text-anchor="middle" font-weight="normal" fill="#141414" stroke="#141414" stroke-width="0.15">A</text>
<text transform="translate(72.96,420.55) scale(0.67,1)" font-size="10.0" text-anchor="middle" font-weight="normal" fill="#141414" stroke="#141414" stroke-width="0.15">M</text>
<text transform="translate(72.96,431.90) scale(0.67,1)" font-size="10.0" text-anchor="middle" font-weight="normal" fill="#141414" stroke="#141414" stroke-width="0.15">J</text>
<text transform="translate(83.09,409.20) scale(0.67,1)" font-size="10.0" text-anchor="middle" font-weight="normal" fill="#141414" stroke="#141414" stroke-width="0.15">M</text>
<text transform="translate(83.09,420.55) scale(0.67,1)" font-size="10.0" text-anchor="middle" font-weight="normal" fill="#141414" stroke="#141414" stroke-width="0.15">J</text>
<text transform="translate(83.09,431.90) scale(0.67,1)" font-size="10.0" text-anchor="middle" font-weight="normal" fill="#141414" stroke="#141414" stroke-width="0.15">J</text>
<text transform="translate(93.22,409.20) scale(0.67,1)" font-size="10.0" text-anchor="middle" font-weight="normal" fill="#141414" stroke="#141414" stroke-width="0.15">J</text>
<text transform="translate(93.22,420.55) scale(0.67,1)" font-size="10.0" text-anchor="middle" font-weight="normal" fill="#141414" stroke="#141414" stroke-width="0.15">J</text>
<text transform="translate(93.22,431.90) scale(0.67,1)" font-size="10.0" text-anchor="middle" font-weight="normal" fill="#141414" stroke="#141414" stroke-width="0.15">A</text>
<text transform="translate(103.35,409.20) scale(0.67,1)" font-size="10.0" text-anchor="middle" font-weight="normal" fill="#141414" stroke="#141414" stroke-width="0.15">J</text>
<text transform="translate(103.35,420.55) scale(0.67,1)" font-size="10.0" text-anchor="middle" font-weight="normal" fill="#141414" stroke="#141414" stroke-width="0.15">A</text>
<text transform="translate(103.35,431.90) scale(0.67,1)" font-size="10.0" text-anchor="middle" font-weight="normal" fill="#141414" stroke="#141414" stroke-width="0.15">S</text>
<text transform="translate(113.48,409.20) scale(0.67,1)" font-size="10.0" text-anchor="middle" font-weight="normal" fill="#141414" stroke="#141414" stroke-width="0.15">A</text>
<text transform="translate(113.48,420.55) scale(0.67,1)" font-size="10.0" text-anchor="middle" font-weight="normal" fill="#141414" stroke="#141414" stroke-width="0.15">S</text>
<text transform="translate(113.48,431.90) scale(0.67,1)" font-size="10.0" text-anchor="middle" font-weight="normal" fill="#141414" stroke="#141414" stroke-width="0.15">O</text>
<text transform="translate(123.61,409.20) scale(0.67,1)" font-size="10.0" text-anchor="middle" font-weight="normal" fill="#141414" stroke="#141414" stroke-width="0.15">S</text>
<text transform="translate(123.61,420.55) scale(0.67,1)" font-size="10.0" text-anchor="middle" font-weight="normal" fill="#141414" stroke="#141414" stroke-width="0.15">O</text>
<text transform="translate(123.61,431.90) scale(0.67,1)" font-size="10.0" text-anchor="middle" font-weight="normal" fill="#141414" stroke="#141414" stroke-width="0.15">N</text>
<text transform="translate(133.74,409.20) scale(0.67,1)" font-size="10.0" text-anchor="middle" font-weight="normal" fill="#141414" stroke="#141414" stroke-width="0.15">O</text>
<text transform="translate(133.74,420.55) scale(0.67,1)" font-size="10.0" text-anchor="middle" font-weight="normal" fill="#141414" stroke="#141414" stroke-width="0.15">N</text>
<text transform="translate(133.74,431.90) scale(0.67,1)" font-size="10.0" text-anchor="middle" font-weight="normal" fill="#141414" stroke="#141414" stroke-width="0.15">D</text>
<text transform="translate(143.87,409.20) scale(0.67,1)" font-size="10.0" text-anchor="middle" font-weight="normal" fill="#141414" stroke="#141414" stroke-width="0.15">N</text>
<text transform="translate(143.87,420.55) scale(0.67,1)" font-size="10.0" text-anchor="middle" font-weight="normal" fill="#141414" stroke="#141414" stroke-width="0.15">D</text>
<text transform="translate(143.87,431.90) scale(0.67,1)" font-size="10.0" text-anchor="middle" font-weight="normal" fill="#141414" stroke="#141414" stroke-width="0.15">E</text>
<text transform="translate(154.00,409.20) scale(0.67,1)" font-size="10.0" text-anchor="middle" font-weight="normal" fill="#141414" stroke="#141414" stroke-width="0.15">D</text>
<text transform="translate(154.00,420.55) scale(0.67,1)" font-size="10.0" text-anchor="middle" font-weight="normal" fill="#141414" stroke="#141414" stroke-width="0.15">E</text>
<text transform="translate(154.00,431.90) scale(0.67,1)" font-size="10.0" text-anchor="middle" font-weight="normal" fill="#141414" stroke="#141414" stroke-width="0.15">F</text>
<text transform="translate(164.13,409.20) scale(0.67,1)" font-size="10.0" text-anchor="middle" font-weight="normal" fill="#141414" stroke="#141414" stroke-width="0.15">E</text>
<text transform="translate(164.13,420.55) scale(0.67,1)" font-size="10.0" text-anchor="middle" font-weight="normal" fill="#141414" stroke="#141414" stroke-width="0.15">F</text>
<text transform="translate(164.13,431.90) scale(0.67,1)" font-size="10.0" text-anchor="middle" font-weight="normal" fill="#141414" stroke="#141414" stroke-width="0.15">M</text>
<text transform="translate(174.27,409.20) scale(0.67,1)" font-size="10.0" text-anchor="middle" font-weight="normal" fill="#141414" stroke="#141414" stroke-width="0.15">F</text>
<text transform="translate(174.27,420.55) scale(0.67,1)" font-size="10.0" text-anchor="middle" font-weight="normal" fill="#141414" stroke="#141414" stroke-width="0.15">M</text>
<text transform="translate(174.27,431.90) scale(0.67,1)" font-size="10.0" text-anchor="middle" font-weight="normal" fill="#141414" stroke="#141414" stroke-width="0.15">A</text>
<text transform="translate(184.40,409.20) scale(0.67,1)" font-size="10.0" text-anchor="middle" font-weight="normal" fill="#141414" stroke="#141414" stroke-width="0.15">M</text>
<text transform="translate(184.40,420.55) scale(0.67,1)" font-size="10.0" text-anchor="middle" font-weight="normal" fill="#141414" stroke="#141414" stroke-width="0.15">A</text>
<text transform="translate(184.40,431.90) scale(0.67,1)" font-size="10.0" text-anchor="middle" font-weight="normal" fill="#141414" stroke="#141414" stroke-width="0.15">M</text>
<text transform="translate(194.53,409.20) scale(0.67,1)" font-size="10.0" text-anchor="middle" font-weight="normal" fill="#141414" stroke="#141414" stroke-width="0.15">A</text>
<text transform="translate(194.53,420.55) scale(0.67,1)" font-size="10.0" text-anchor="middle" font-weight="normal" fill="#141414" stroke="#141414" stroke-width="0.15">M</text>
<text transform="translate(194.53,431.90) scale(0.67,1)" font-size="10.0" text-anchor="middle" font-weight="normal" fill="#141414" stroke="#141414" stroke-width="0.15">J</text>
<text transform="translate(204.66,409.20) scale(0.67,1)" font-size="10.0" text-anchor="middle" font-weight="normal" fill="#141414" stroke="#141414" stroke-width="0.15">M</text>
<text transform="translate(204.66,420.55) scale(0.67,1)" font-size="10.0" text-anchor="middle" font-weight="normal" fill="#141414" stroke="#141414" stroke-width="0.15">J</text>
<text transform="translate(204.66,431.90) scale(0.67,1)" font-size="10.0" text-anchor="middle" font-weight="normal" fill="#141414" stroke="#141414" stroke-width="0.15">J</text>
<text transform="translate(214.79,409.20) scale(0.67,1)" font-size="10.0" text-anchor="middle" font-weight="normal" fill="#141414" stroke="#141414" stroke-width="0.15">J</text>
<text transform="translate(214.79,420.55) scale(0.67,1)" font-size="10.0" text-anchor="middle" font-weight="normal" fill="#141414" stroke="#141414" stroke-width="0.15">J</text>
<text transform="translate(214.79,431.90) scale(0.67,1)" font-size="10.0" text-anchor="middle" font-weight="normal" fill="#141414" stroke="#141414" stroke-width="0.15">A</text>
<text transform="translate(224.92,409.20) scale(0.67,1)" font-size="10.0" text-anchor="middle" font-weight="normal" fill="#141414" stroke="#141414" stroke-width="0.15">J</text>
<text transform="translate(224.92,420.55) scale(0.67,1)" font-size="10.0" text-anchor="middle" font-weight="normal" fill="#141414" stroke="#141414" stroke-width="0.15">A</text>
<text transform="translate(224.92,431.90) scale(0.67,1)" font-size="10.0" text-anchor="middle" font-weight="normal" fill="#141414" stroke="#141414" stroke-width="0.15">S</text>
<text transform="translate(235.05,409.20) scale(0.67,1)" font-size="10.0" text-anchor="middle" font-weight="normal" fill="#141414" stroke="#141414" stroke-width="0.15">A</text>
<text transform="translate(235.05,420.55) scale(0.67,1)" font-size="10.0" text-anchor="middle" font-weight="normal" fill="#141414" stroke="#141414" stroke-width="0.15">S</text>
<text transform="translate(235.05,431.90) scale(0.67,1)" font-size="10.0" text-anchor="middle" font-weight="normal" fill="#141414" stroke="#141414" stroke-width="0.15">O</text>
<text transform="translate(245.18,409.20) scale(0.67,1)" font-size="10.0" text-anchor="middle" font-weight="normal" fill="#141414" stroke="#141414" stroke-width="0.15">S</text>
<text transform="translate(245.18,420.55) scale(0.67,1)" font-size="10.0" text-anchor="middle" font-weight="normal" fill="#141414" stroke="#141414" stroke-width="0.15">O</text>
<text transform="translate(245.18,431.90) scale(0.67,1)" font-size="10.0" text-anchor="middle" font-weight="normal" fill="#141414" stroke="#141414" stroke-width="0.15">N</text>
<text transform="translate(255.31,409.20) scale(0.67,1)" font-size="10.0" text-anchor="middle" font-weight="normal" fill="#141414" stroke="#141414" stroke-width="0.15">O</text>
<text transform="translate(255.31,420.55) scale(0.67,1)" font-size="10.0" text-anchor="middle" font-weight="normal" fill="#141414" stroke="#141414" stroke-width="0.15">N</text>
<text transform="translate(255.31,431.90) scale(0.67,1)" font-size="10.0" text-anchor="middle" font-weight="normal" fill="#141414" stroke="#141414" stroke-width="0.15">D</text>
<text transform="translate(265.44,409.20) scale(0.67,1)" font-size="10.0" text-anchor="middle" font-weight="normal" fill="#141414" stroke="#141414" stroke-width="0.15">N</text>
<text transform="translate(265.44,420.55) scale(0.67,1)" font-size="10.0" text-anchor="middle" font-weight="normal" fill="#141414" stroke="#141414" stroke-width="0.15">D</text>
<text transform="translate(265.44,431.90) scale(0.67,1)" font-size="10.0" text-anchor="middle" font-weight="normal" fill="#141414" stroke="#141414" stroke-width="0.15">E</text>
<text transform="translate(275.57,409.20) scale(0.67,1)" font-size="10.0" text-anchor="middle" font-weight="normal" fill="#141414" stroke="#141414" stroke-width="0.15">D</text>
<text transform="translate(275.57,420.55) scale(0.67,1)" font-size="10.0" text-anchor="middle" font-weight="normal" fill="#141414" stroke="#141414" stroke-width="0.15">E</text>
<text transform="translate(275.57,431.90) scale(0.67,1)" font-size="10.0" text-anchor="middle" font-weight="normal" fill="#141414" stroke="#141414" stroke-width="0.15">F</text>
<text transform="translate(285.70,409.20) scale(0.67,1)" font-size="10.0" text-anchor="middle" font-weight="normal" fill="#141414" stroke="#141414" stroke-width="0.15">E</text>
<text transform="translate(285.70,420.55) scale(0.67,1)" font-size="10.0" text-anchor="middle" font-weight="normal" fill="#141414" stroke="#141414" stroke-width="0.15">F</text>
<text transform="translate(285.70,431.90) scale(0.67,1)" font-size="10.0" text-anchor="middle" font-weight="normal" fill="#141414" stroke="#141414" stroke-width="0.15">M</text>
<text transform="translate(295.83,409.20) scale(0.67,1)" font-size="10.0" text-anchor="middle" font-weight="normal" fill="#141414" stroke="#141414" stroke-width="0.15">F</text>
<text transform="translate(295.83,420.55) scale(0.67,1)" font-size="10.0" text-anchor="middle" font-weight="normal" fill="#141414" stroke="#141414" stroke-width="0.15">M</text>
<text transform="translate(295.83,431.90) scale(0.67,1)" font-size="10.0" text-anchor="middle" font-weight="normal" fill="#141414" stroke="#141414" stroke-width="0.15">A</text>
<text transform="translate(305.97,409.20) scale(0.67,1)" font-size="10.0" text-anchor="middle" font-weight="normal" fill="#141414" stroke="#141414" stroke-width="0.15">M</text>
<text transform="translate(305.97,420.55) scale(0.67,1)" font-size="10.0" text-anchor="middle" font-weight="normal" fill="#141414" stroke="#141414" stroke-width="0.15">A</text>
<text transform="translate(305.97,431.90) scale(0.67,1)" font-size="10.0" text-anchor="middle" font-weight="normal" fill="#141414" stroke="#141414" stroke-width="0.15">M</text>
<text transform="translate(316.10,409.20) scale(0.67,1)" font-size="10.0" text-anchor="middle" font-weight="normal" fill="#141414" stroke="#141414" stroke-width="0.15">A</text>
<text transform="translate(316.10,420.55) scale(0.67,1)" font-size="10.0" text-anchor="middle" font-weight="normal" fill="#141414" stroke="#141414" stroke-width="0.15">M</text>
<text transform="translate(316.10,431.90) scale(0.67,1)" font-size="10.0" text-anchor="middle" font-weight="normal" fill="#141414" stroke="#141414" stroke-width="0.15">J</text>
<text transform="translate(326.23,409.20) scale(0.67,1)" font-size="10.0" text-anchor="middle" font-weight="normal" fill="#141414" stroke="#141414" stroke-width="0.15">M</text>
<text transform="translate(326.23,420.55) scale(0.67,1)" font-size="10.0" text-anchor="middle" font-weight="normal" fill="#141414" stroke="#141414" stroke-width="0.15">J</text>
<text transform="translate(326.23,431.90) scale(0.67,1)" font-size="10.0" text-anchor="middle" font-weight="normal" fill="#141414" stroke="#141414" stroke-width="0.15">J</text>
<text transform="translate(336.36,409.20) scale(0.67,1)" font-size="10.0" text-anchor="middle" font-weight="normal" fill="#141414" stroke="#141414" stroke-width="0.15">J</text>
<text transform="translate(336.36,420.55) scale(0.67,1)" font-size="10.0" text-anchor="middle" font-weight="normal" fill="#141414" stroke="#141414" stroke-width="0.15">J</text>
<text transform="translate(336.36,431.90) scale(0.67,1)" font-size="10.0" text-anchor="middle" font-weight="normal" fill="#141414" stroke="#141414" stroke-width="0.15">A</text>
<text transform="translate(346.49,409.20) scale(0.67,1)" font-size="10.0" text-anchor="middle" font-weight="normal" fill="#141414" stroke="#141414" stroke-width="0.15">J</text>
<text transform="translate(346.49,420.55) scale(0.67,1)" font-size="10.0" text-anchor="middle" font-weight="normal" fill="#141414" stroke="#141414" stroke-width="0.15">A</text>
<text transform="translate(346.49,431.90) scale(0.67,1)" font-size="10.0" text-anchor="middle" font-weight="normal" fill="#141414" stroke="#141414" stroke-width="0.15">S</text>
<text transform="translate(356.62,409.20) scale(0.67,1)" font-size="10.0" text-anchor="middle" font-weight="normal" fill="#141414" stroke="#141414" stroke-width="0.15">A</text>
<text transform="translate(356.62,420.55) scale(0.67,1)" font-size="10.0" text-anchor="middle" font-weight="normal" fill="#141414" stroke="#141414" stroke-width="0.15">S</text>
<text transform="translate(356.62,431.90) scale(0.67,1)" font-size="10.0" text-anchor="middle" font-weight="normal" fill="#141414" stroke="#141414" stroke-width="0.15">O</text>
<text transform="translate(366.75,409.20) scale(0.67,1)" font-size="10.0" text-anchor="middle" font-weight="normal" fill="#141414" stroke="#141414" stroke-width="0.15">S</text>
<text transform="translate(366.75,420.55) scale(0.67,1)" font-size="10.0" text-anchor="middle" font-weight="normal" fill="#141414" stroke="#141414" stroke-width="0.15">O</text>
<text transform="translate(366.75,431.90) scale(0.67,1)" font-size="10.0" text-anchor="middle" font-weight="normal" fill="#141414" stroke="#141414" stroke-width="0.15">N</text>
<text transform="translate(376.88,409.20) scale(0.67,1)" font-size="10.0" text-anchor="middle" font-weight="normal" fill="#141414" stroke="#141414" stroke-width="0.15">O</text>
<text transform="translate(376.88,420.55) scale(0.67,1)" font-size="10.0" text-anchor="middle" font-weight="normal" fill="#141414" stroke="#141414" stroke-width="0.15">N</text>
<text transform="translate(376.88,431.90) scale(0.67,1)" font-size="10.0" text-anchor="middle" font-weight="normal" fill="#141414" stroke="#141414" stroke-width="0.15">D</text>
<text transform="translate(387.01,409.20) scale(0.67,1)" font-size="10.0" text-anchor="middle" font-weight="normal" fill="#141414" stroke="#141414" stroke-width="0.15">N</text>
<text transform="translate(387.01,420.55) scale(0.67,1)" font-size="10.0" text-anchor="middle" font-weight="normal" fill="#141414" stroke="#141414" stroke-width="0.15">D</text>
<text transform="translate(387.01,431.90) scale(0.67,1)" font-size="10.0" text-anchor="middle" font-weight="normal" fill="#141414" stroke="#141414" stroke-width="0.15">E</text>
<text transform="translate(397.14,409.20) scale(0.67,1)" font-size="10.0" text-anchor="middle" font-weight="normal" fill="#141414" stroke="#141414" stroke-width="0.15">D</text>
<text transform="translate(397.14,420.55) scale(0.67,1)" font-size="10.0" text-anchor="middle" font-weight="normal" fill="#141414" stroke="#141414" stroke-width="0.15">E</text>
<text transform="translate(397.14,431.90) scale(0.67,1)" font-size="10.0" text-anchor="middle" font-weight="normal" fill="#141414" stroke="#141414" stroke-width="0.15">F</text>
<text transform="translate(407.27,409.20) scale(0.67,1)" font-size="10.0" text-anchor="middle" font-weight="normal" fill="#141414" stroke="#141414" stroke-width="0.15">E</text>
<text transform="translate(407.27,420.55) scale(0.67,1)" font-size="10.0" text-anchor="middle" font-weight="normal" fill="#141414" stroke="#141414" stroke-width="0.15">F</text>
<text transform="translate(407.27,431.90) scale(0.67,1)" font-size="10.0" text-anchor="middle" font-weight="normal" fill="#141414" stroke="#141414" stroke-width="0.15">M</text>
<text transform="translate(417.40,409.20) scale(0.67,1)" font-size="10.0" text-anchor="middle" font-weight="normal" fill="#141414" stroke="#141414" stroke-width="0.15">F</text>
<text transform="translate(417.40,420.55) scale(0.67,1)" font-size="10.0" text-anchor="middle" font-weight="normal" fill="#141414" stroke="#141414" stroke-width="0.15">M</text>
<text transform="translate(417.40,431.90) scale(0.67,1)" font-size="10.0" text-anchor="middle" font-weight="normal" fill="#141414" stroke="#141414" stroke-width="0.15">A</text>
<text transform="translate(427.53,409.20) scale(0.67,1)" font-size="10.0" text-anchor="middle" font-weight="normal" fill="#141414" stroke="#141414" stroke-width="0.15">M</text>
<text transform="translate(427.53,420.55) scale(0.67,1)" font-size="10.0" text-anchor="middle" font-weight="normal" fill="#141414" stroke="#141414" stroke-width="0.15">A</text>
<text transform="translate(427.53,431.90) scale(0.67,1)" font-size="10.0" text-anchor="middle" font-weight="normal" fill="#141414" stroke="#141414" stroke-width="0.15">M</text>
<text transform="translate(437.67,409.20) scale(0.67,1)" font-size="10.0" text-anchor="middle" font-weight="normal" fill="#141414" stroke="#141414" stroke-width="0.15">A</text>
<text transform="translate(437.67,420.55) scale(0.67,1)" font-size="10.0" text-anchor="middle" font-weight="normal" fill="#141414" stroke="#141414" stroke-width="0.15">M</text>
<text transform="translate(437.67,431.90) scale(0.67,1)" font-size="10.0" text-anchor="middle" font-weight="normal" fill="#141414" stroke="#141414" stroke-width="0.15">J</text>
<text transform="translate(447.80,409.20) scale(0.67,1)" font-size="10.0" text-anchor="middle" font-weight="normal" fill="#141414" stroke="#141414" stroke-width="0.15">M</text>
<text transform="translate(447.80,420.55) scale(0.67,1)" font-size="10.0" text-anchor="middle" font-weight="normal" fill="#141414" stroke="#141414" stroke-width="0.15">J</text>
<text transform="translate(447.80,431.90) scale(0.67,1)" font-size="10.0" text-anchor="middle" font-weight="normal" fill="#141414" stroke="#141414" stroke-width="0.15">J</text>
<text transform="translate(457.93,409.20) scale(0.67,1)" font-size="10.0" text-anchor="middle" font-weight="normal" fill="#141414" stroke="#141414" stroke-width="0.15">J</text>
<text transform="translate(457.93,420.55) scale(0.67,1)" font-size="10.0" text-anchor="middle" font-weight="normal" fill="#141414" stroke="#141414" stroke-width="0.15">J</text>
<text transform="translate(457.93,431.90) scale(0.67,1)" font-size="10.0" text-anchor="middle" font-weight="normal" fill="#141414" stroke="#141414" stroke-width="0.15">A</text>
<text transform="translate(468.06,409.20) scale(0.67,1)" font-size="10.0" text-anchor="middle" font-weight="normal" fill="#141414" stroke="#141414" stroke-width="0.15">J</text>
<text transform="translate(468.06,420.55) scale(0.67,1)" font-size="10.0" text-anchor="middle" font-weight="normal" fill="#141414" stroke="#141414" stroke-width="0.15">A</text>
<text transform="translate(468.06,431.90) scale(0.67,1)" font-size="10.0" text-anchor="middle" font-weight="normal" fill="#141414" stroke="#141414" stroke-width="0.15">S</text>
<text transform="translate(478.19,409.20) scale(0.67,1)" font-size="10.0" text-anchor="middle" font-weight="normal" fill="#141414" stroke="#141414" stroke-width="0.15">A</text>
<text transform="translate(478.19,420.55) scale(0.67,1)" font-size="10.0" text-anchor="middle" font-weight="normal" fill="#141414" stroke="#141414" stroke-width="0.15">S</text>
<text transform="translate(478.19,431.90) scale(0.67,1)" font-size="10.0" text-anchor="middle" font-weight="normal" fill="#141414" stroke="#141414" stroke-width="0.15">O</text>
<text transform="translate(488.32,409.20) scale(0.67,1)" font-size="10.0" text-anchor="middle" font-weight="normal" fill="#141414" stroke="#141414" stroke-width="0.15">S</text>
<text transform="translate(488.32,420.55) scale(0.67,1)" font-size="10.0" text-anchor="middle" font-weight="normal" fill="#141414" stroke="#141414" stroke-width="0.15">O</text>
<text transform="translate(488.32,431.90) scale(0.67,1)" font-size="10.0" text-anchor="middle" font-weight="normal" fill="#141414" stroke="#141414" stroke-width="0.15">N</text>
<text transform="translate(498.45,409.20) scale(0.67,1)" font-size="10.0" text-anchor="middle" font-weight="normal" fill="#141414" stroke="#141414" stroke-width="0.15">O</text>
<text transform="translate(498.45,420.55) scale(0.67,1)" font-size="10.0" text-anchor="middle" font-weight="normal" fill="#141414" stroke="#141414" stroke-width="0.15">N</text>
<text transform="translate(498.45,431.90) scale(0.67,1)" font-size="10.0" text-anchor="middle" font-weight="normal" fill="#141414" stroke="#141414" stroke-width="0.15">D</text>
<text transform="translate(508.58,409.20) scale(0.67,1)" font-size="10.0" text-anchor="middle" font-weight="normal" fill="#141414" stroke="#141414" stroke-width="0.15">N</text>
<text transform="translate(508.58,420.55) scale(0.67,1)" font-size="10.0" text-anchor="middle" font-weight="normal" fill="#141414" stroke="#141414" stroke-width="0.15">D</text>
<text transform="translate(508.58,431.90) scale(0.67,1)" font-size="10.0" text-anchor="middle" font-weight="normal" fill="#141414" stroke="#141414" stroke-width="0.15">E</text>
<text transform="translate(518.71,409.20) scale(0.67,1)" font-size="10.0" text-anchor="middle" font-weight="normal" fill="#141414" stroke="#141414" stroke-width="0.15">D</text>
<text transform="translate(518.71,420.55) scale(0.67,1)" font-size="10.0" text-anchor="middle" font-weight="normal" fill="#141414" stroke="#141414" stroke-width="0.15">E</text>
<text transform="translate(518.71,431.90) scale(0.67,1)" font-size="10.0" text-anchor="middle" font-weight="normal" fill="#141414" stroke="#141414" stroke-width="0.15">F</text>
<text transform="translate(528.84,409.20) scale(0.67,1)" font-size="10.0" text-anchor="middle" font-weight="normal" fill="#141414" stroke="#141414" stroke-width="0.15">E</text>
<text transform="translate(528.84,420.55) scale(0.67,1)" font-size="10.0" text-anchor="middle" font-weight="normal" fill="#141414" stroke="#141414" stroke-width="0.15">F</text>
<text transform="translate(528.84,431.90) scale(0.67,1)" font-size="10.0" text-anchor="middle" font-weight="normal" fill="#141414" stroke="#141414" stroke-width="0.15">M</text>
<text transform="translate(538.97,409.20) scale(0.67,1)" font-size="10.0" text-anchor="middle" font-weight="normal" fill="#141414" stroke="#141414" stroke-width="0.15">F</text>
<text transform="translate(538.97,420.55) scale(0.67,1)" font-size="10.0" text-anchor="middle" font-weight="normal" fill="#141414" stroke="#141414" stroke-width="0.15">M</text>
<text transform="translate(538.97,431.90) scale(0.67,1)" font-size="10.0" text-anchor="middle" font-weight="normal" fill="#141414" stroke="#141414" stroke-width="0.15">A</text>
<text transform="translate(549.10,409.20) scale(0.67,1)" font-size="10.0" text-anchor="middle" font-weight="normal" fill="#141414" stroke="#141414" stroke-width="0.15">M</text>
<text transform="translate(549.10,420.55) scale(0.67,1)" font-size="10.0" text-anchor="middle" font-weight="normal" fill="#141414" stroke="#141414" stroke-width="0.15">A</text>
<text transform="translate(549.10,431.90) scale(0.67,1)" font-size="10.0" text-anchor="middle" font-weight="normal" fill="#141414" stroke="#141414" stroke-width="0.15">M</text>
<text transform="translate(559.23,409.20) scale(0.67,1)" font-size="10.0" text-anchor="middle" font-weight="normal" fill="#141414" stroke="#141414" stroke-width="0.15">A</text>
<text transform="translate(559.23,420.55) scale(0.67,1)" font-size="10.0" text-anchor="middle" font-weight="normal" fill="#141414" stroke="#141414" stroke-width="0.15">M</text>
<text transform="translate(559.23,431.90) scale(0.67,1)" font-size="10.0" text-anchor="middle" font-weight="normal" fill="#141414" stroke="#141414" stroke-width="0.15">J</text>
<text transform="translate(569.37,409.20) scale(0.67,1)" font-size="10.0" text-anchor="middle" font-weight="normal" fill="#141414" stroke="#141414" stroke-width="0.15">M</text>
<text transform="translate(569.37,420.55) scale(0.67,1)" font-size="10.0" text-anchor="middle" font-weight="normal" fill="#141414" stroke="#141414" stroke-width="0.15">J</text>
<text transform="translate(569.37,431.90) scale(0.67,1)" font-size="10.0" text-anchor="middle" font-weight="normal" fill="#141414" stroke="#141414" stroke-width="0.15">J</text>
<text transform="translate(579.50,409.20) scale(0.67,1)" font-size="10.0" text-anchor="middle" font-weight="normal" fill="#141414" stroke="#141414" stroke-width="0.15">J</text>
<text transform="translate(579.50,420.55) scale(0.67,1)" font-size="10.0" text-anchor="middle" font-weight="normal" fill="#141414" stroke="#141414" stroke-width="0.15">J</text>
<text transform="translate(579.50,431.90) scale(0.67,1)" font-size="10.0" text-anchor="middle" font-weight="normal" fill="#141414" stroke="#141414" stroke-width="0.15">A</text>
<text transform="translate(589.63,409.20) scale(0.67,1)" font-size="10.0" text-anchor="middle" font-weight="normal" fill="#141414" stroke="#141414" stroke-width="0.15">J</text>
<text transform="translate(589.63,420.55) scale(0.67,1)" font-size="10.0" text-anchor="middle" font-weight="normal" fill="#141414" stroke="#141414" stroke-width="0.15">A</text>
<text transform="translate(589.63,431.90) scale(0.67,1)" font-size="10.0" text-anchor="middle" font-weight="normal" fill="#141414" stroke="#141414" stroke-width="0.15">S</text>
<text transform="translate(599.76,409.20) scale(0.67,1)" font-size="10.0" text-anchor="middle" font-weight="normal" fill="#141414" stroke="#141414" stroke-width="0.15">A</text>
<text transform="translate(599.76,420.55) scale(0.67,1)" font-size="10.0" text-anchor="middle" font-weight="normal" fill="#141414" stroke="#141414" stroke-width="0.15">S</text>
<text transform="translate(599.76,431.90) scale(0.67,1)" font-size="10.0" text-anchor="middle" font-weight="normal" fill="#141414" stroke="#141414" stroke-width="0.15">O</text>
<text transform="translate(609.89,409.20) scale(0.67,1)" font-size="10.0" text-anchor="middle" font-weight="normal" fill="#141414" stroke="#141414" stroke-width="0.15">S</text>
<text transform="translate(609.89,420.55) scale(0.67,1)" font-size="10.0" text-anchor="middle" font-weight="normal" fill="#141414" stroke="#141414" stroke-width="0.15">O</text>
<text transform="translate(609.89,431.90) scale(0.67,1)" font-size="10.0" text-anchor="middle" font-weight="normal" fill="#141414" stroke="#141414" stroke-width="0.15">N</text>
<text transform="translate(620.02,409.20) scale(0.67,1)" font-size="10.0" text-anchor="middle" font-weight="normal" fill="#141414" stroke="#141414" stroke-width="0.15">O</text>
<text transform="translate(620.02,420.55) scale(0.67,1)" font-size="10.0" text-anchor="middle" font-weight="normal" fill="#141414" stroke="#141414" stroke-width="0.15">N</text>
<text transform="translate(620.02,431.90) scale(0.67,1)" font-size="10.0" text-anchor="middle" font-weight="normal" fill="#141414" stroke="#141414" stroke-width="0.15">D</text>
<text transform="translate(630.15,409.20) scale(0.67,1)" font-size="10.0" text-anchor="middle" font-weight="normal" fill="#141414" stroke="#141414" stroke-width="0.15">N</text>
<text transform="translate(630.15,420.55) scale(0.67,1)" font-size="10.0" text-anchor="middle" font-weight="normal" fill="#141414" stroke="#141414" stroke-width="0.15">D</text>
<text transform="translate(630.15,431.90) scale(0.67,1)" font-size="10.0" text-anchor="middle" font-weight="normal" fill="#141414" stroke="#141414" stroke-width="0.15">E</text>
<text transform="translate(640.28,409.20) scale(0.67,1)" font-size="10.0" text-anchor="middle" font-weight="normal" fill="#141414" stroke="#141414" stroke-width="0.15">D</text>
<text transform="translate(640.28,420.55) scale(0.67,1)" font-size="10.0" text-anchor="middle" font-weight="normal" fill="#141414" stroke="#141414" stroke-width="0.15">E</text>
<text transform="translate(640.28,431.90) scale(0.67,1)" font-size="10.0" text-anchor="middle" font-weight="normal" fill="#141414" stroke="#141414" stroke-width="0.15">F</text>
<text transform="translate(650.41,409.20) scale(0.67,1)" font-size="10.0" text-anchor="middle" font-weight="normal" fill="#141414" stroke="#141414" stroke-width="0.15">E</text>
<text transform="translate(650.41,420.55) scale(0.67,1)" font-size="10.0" text-anchor="middle" font-weight="normal" fill="#141414" stroke="#141414" stroke-width="0.15">F</text>
<text transform="translate(650.41,431.90) scale(0.67,1)" font-size="10.0" text-anchor="middle" font-weight="normal" fill="#141414" stroke="#141414" stroke-width="0.15">M</text>
<text transform="translate(660.54,409.20) scale(0.67,1)" font-size="10.0" text-anchor="middle" font-weight="normal" fill="#141414" stroke="#141414" stroke-width="0.15">F</text>
<text transform="translate(660.54,420.55) scale(0.67,1)" font-size="10.0" text-anchor="middle" font-weight="normal" fill="#141414" stroke="#141414" stroke-width="0.15">M</text>
<text transform="translate(660.54,431.90) scale(0.67,1)" font-size="10.0" text-anchor="middle" font-weight="normal" fill="#141414" stroke="#141414" stroke-width="0.15">A</text>
<text transform="translate(670.67,409.20) scale(0.67,1)" font-size="10.0" text-anchor="middle" font-weight="normal" fill="#141414" stroke="#141414" stroke-width="0.15">M</text>
<text transform="translate(670.67,420.55) scale(0.67,1)" font-size="10.0" text-anchor="middle" font-weight="normal" fill="#141414" stroke="#141414" stroke-width="0.15">A</text>
<text transform="translate(670.67,431.90) scale(0.67,1)" font-size="10.0" text-anchor="middle" font-weight="normal" fill="#141414" stroke="#141414" stroke-width="0.15">M</text>
<text transform="translate(680.80,409.20) scale(0.67,1)" font-size="10.0" text-anchor="middle" font-weight="normal" fill="#141414" stroke="#141414" stroke-width="0.15">A</text>
<text transform="translate(680.80,420.55) scale(0.67,1)" font-size="10.0" text-anchor="middle" font-weight="normal" fill="#141414" stroke="#141414" stroke-width="0.15">M</text>
<text transform="translate(680.80,431.90) scale(0.67,1)" font-size="10.0" text-anchor="middle" font-weight="normal" fill="#141414" stroke="#141414" stroke-width="0.15">J</text>
<text transform="translate(690.93,409.20) scale(0.67,1)" font-size="10.0" text-anchor="middle" font-weight="normal" fill="#141414" stroke="#141414" stroke-width="0.15">M</text>
<text transform="translate(690.93,420.55) scale(0.67,1)" font-size="10.0" text-anchor="middle" font-weight="normal" fill="#141414" stroke="#141414" stroke-width="0.15">J</text>
<text transform="translate(690.93,431.90) scale(0.67,1)" font-size="10.0" text-anchor="middle" font-weight="normal" fill="#141414" stroke="#141414" stroke-width="0.15">J</text>
<text transform="translate(701.07,409.20) scale(0.67,1)" font-size="10.0" text-anchor="middle" font-weight="normal" fill="#141414" stroke="#141414" stroke-width="0.15">J</text>
<text transform="translate(701.07,420.55) scale(0.67,1)" font-size="10.0" text-anchor="middle" font-weight="normal" fill="#141414" stroke="#141414" stroke-width="0.15">J</text>
<text transform="translate(701.07,431.90) scale(0.67,1)" font-size="10.0" text-anchor="middle" font-weight="normal" fill="#141414" stroke="#141414" stroke-width="0.15">A</text>
<text transform="translate(711.20,409.20) scale(0.67,1)" font-size="10.0" text-anchor="middle" font-weight="normal" fill="#141414" stroke="#141414" stroke-width="0.15">J</text>
<text transform="translate(711.20,420.55) scale(0.67,1)" font-size="10.0" text-anchor="middle" font-weight="normal" fill="#141414" stroke="#141414" stroke-width="0.15">A</text>
<text transform="translate(711.20,431.90) scale(0.67,1)" font-size="10.0" text-anchor="middle" font-weight="normal" fill="#141414" stroke="#141414" stroke-width="0.15">S</text>
<text transform="translate(721.33,409.20) scale(0.67,1)" font-size="10.0" text-anchor="middle" font-weight="normal" fill="#141414" stroke="#141414" stroke-width="0.15">A</text>
<text transform="translate(721.33,420.55) scale(0.67,1)" font-size="10.0" text-anchor="middle" font-weight="normal" fill="#141414" stroke="#141414" stroke-width="0.15">S</text>
<text transform="translate(721.33,431.90) scale(0.67,1)" font-size="10.0" text-anchor="middle" font-weight="normal" fill="#141414" stroke="#141414" stroke-width="0.15">O</text>
<text transform="translate(731.46,409.20) scale(0.67,1)" font-size="10.0" text-anchor="middle" font-weight="normal" fill="#141414" stroke="#141414" stroke-width="0.15">S</text>
<text transform="translate(731.46,420.55) scale(0.67,1)" font-size="10.0" text-anchor="middle" font-weight="normal" fill="#141414" stroke="#141414" stroke-width="0.15">O</text>
<text transform="translate(731.46,431.90) scale(0.67,1)" font-size="10.0" text-anchor="middle" font-weight="normal" fill="#141414" stroke="#141414" stroke-width="0.15">N</text>
<text transform="translate(741.59,409.20) scale(0.67,1)" font-size="10.0" text-anchor="middle" font-weight="normal" fill="#141414" stroke="#141414" stroke-width="0.15">O</text>
<text transform="translate(741.59,420.55) scale(0.67,1)" font-size="10.0" text-anchor="middle" font-weight="normal" fill="#141414" stroke="#141414" stroke-width="0.15">N</text>
<text transform="translate(741.59,431.90) scale(0.67,1)" font-size="10.0" text-anchor="middle" font-weight="normal" fill="#141414" stroke="#141414" stroke-width="0.15">D</text>
<text transform="translate(751.72,409.20) scale(0.67,1)" font-size="10.0" text-anchor="middle" font-weight="normal" fill="#141414" stroke="#141414" stroke-width="0.15">N</text>
<text transform="translate(751.72,420.55) scale(0.67,1)" font-size="10.0" text-anchor="middle" font-weight="normal" fill="#141414" stroke="#141414" stroke-width="0.15">D</text>
<text transform="translate(751.72,431.90) scale(0.67,1)" font-size="10.0" text-anchor="middle" font-weight="normal" fill="#141414" stroke="#141414" stroke-width="0.15">E</text>
<text transform="translate(761.85,409.20) scale(0.67,1)" font-size="10.0" text-anchor="middle" font-weight="normal" fill="#141414" stroke="#141414" stroke-width="0.15">D</text>
<text transform="translate(761.85,420.55) scale(0.67,1)" font-size="10.0" text-anchor="middle" font-weight="normal" fill="#141414" stroke="#141414" stroke-width="0.15">E</text>
<text transform="translate(761.85,431.90) scale(0.67,1)" font-size="10.0" text-anchor="middle" font-weight="normal" fill="#141414" stroke="#141414" stroke-width="0.15">F</text>
<text transform="translate(771.98,409.20) scale(0.67,1)" font-size="10.0" text-anchor="middle" font-weight="normal" fill="#141414" stroke="#141414" stroke-width="0.15">E</text>
<text transform="translate(771.98,420.55) scale(0.67,1)" font-size="10.0" text-anchor="middle" font-weight="normal" fill="#141414" stroke="#141414" stroke-width="0.15">F</text>
<text transform="translate(771.98,431.90) scale(0.67,1)" font-size="10.0" text-anchor="middle" font-weight="normal" fill="#141414" stroke="#141414" stroke-width="0.15">M</text>
<text transform="translate(782.11,409.20) scale(0.67,1)" font-size="10.0" text-anchor="middle" font-weight="normal" fill="#141414" stroke="#141414" stroke-width="0.15">F</text>
<text transform="translate(782.11,420.55) scale(0.67,1)" font-size="10.0" text-anchor="middle" font-weight="normal" fill="#141414" stroke="#141414" stroke-width="0.15">M</text>
<text transform="translate(782.11,431.90) scale(0.67,1)" font-size="10.0" text-anchor="middle" font-weight="normal" fill="#141414" stroke="#141414" stroke-width="0.15">A</text>
<text transform="translate(792.24,409.20) scale(0.67,1)" font-size="10.0" text-anchor="middle" font-weight="normal" fill="#141414" stroke="#141414" stroke-width="0.15">M</text>
<text transform="translate(792.24,420.55) scale(0.67,1)" font-size="10.0" text-anchor="middle" font-weight="normal" fill="#141414" stroke="#141414" stroke-width="0.15">A</text>
<text transform="translate(792.24,431.90) scale(0.67,1)" font-size="10.0" text-anchor="middle" font-weight="normal" fill="#141414" stroke="#141414" stroke-width="0.15">M</text>
<text transform="translate(802.37,409.20) scale(0.67,1)" font-size="10.0" text-anchor="middle" font-weight="normal" fill="#141414" stroke="#141414" stroke-width="0.15">A</text>
<text transform="translate(802.37,420.55) scale(0.67,1)" font-size="10.0" text-anchor="middle" font-weight="normal" fill="#141414" stroke="#141414" stroke-width="0.15">M</text>
<text transform="translate(802.37,431.90) scale(0.67,1)" font-size="10.0" text-anchor="middle" font-weight="normal" fill="#141414" stroke="#141414" stroke-width="0.15">J</text>
<text transform="translate(812.50,409.20) scale(0.67,1)" font-size="10.0" text-anchor="middle" font-weight="normal" fill="#141414" stroke="#141414" stroke-width="0.15">M</text>
<text transform="translate(812.50,420.55) scale(0.67,1)" font-size="10.0" text-anchor="middle" font-weight="normal" fill="#141414" stroke="#141414" stroke-width="0.15">J</text>
<text transform="translate(812.50,431.90) scale(0.67,1)" font-size="10.0" text-anchor="middle" font-weight="normal" fill="#141414" stroke="#141414" stroke-width="0.15">J</text>
<text transform="translate(822.63,409.20) scale(0.67,1)" font-size="10.0" text-anchor="middle" font-weight="normal" fill="#141414" stroke="#141414" stroke-width="0.15">J</text>
<text transform="translate(822.63,420.55) scale(0.67,1)" font-size="10.0" text-anchor="middle" font-weight="normal" fill="#141414" stroke="#141414" stroke-width="0.15">J</text>
<text transform="translate(822.63,431.90) scale(0.67,1)" font-size="10.0" text-anchor="middle" font-weight="normal" fill="#141414" stroke="#141414" stroke-width="0.15">A</text>
<line x1="37.5" y1="393.5" x2="827.7" y2="393.5" stroke="#111" stroke-width="1.3"/>
<text transform="translate(88.15,448.60) scale(0.7,1)" font-size="9.6" text-anchor="middle" font-weight="normal" fill="#141414" stroke="#141414" stroke-width="0.15">2014</text>
<text transform="translate(199.59,448.60) scale(0.7,1)" font-size="9.6" text-anchor="middle" font-weight="normal" fill="#141414" stroke="#141414" stroke-width="0.15">2015</text>
<text transform="translate(321.16,448.60) scale(0.7,1)" font-size="9.6" text-anchor="middle" font-weight="normal" fill="#141414" stroke="#141414" stroke-width="0.15">2016</text>
<text transform="translate(442.73,448.60) scale(0.7,1)" font-size="9.6" text-anchor="middle" font-weight="normal" fill="#141414" stroke="#141414" stroke-width="0.15">2017</text>
<text transform="translate(564.30,448.60) scale(0.7,1)" font-size="9.6" text-anchor="middle" font-weight="normal" fill="#141414" stroke="#141414" stroke-width="0.15">2018</text>
<text transform="translate(685.87,448.60) scale(0.7,1)" font-size="9.6" text-anchor="middle" font-weight="normal" fill="#141414" stroke="#141414" stroke-width="0.15">2019</text>
<text transform="translate(787.18,448.60) scale(0.7,1)" font-size="9.6" text-anchor="middle" font-weight="normal" fill="#141414" stroke="#141414" stroke-width="0.15">2020</text>
<text transform="translate(415.50,468.50) scale(0.78,1)" font-size="8.6" text-anchor="middle" font-weight="normal" fill="#141414" stroke="#141414" stroke-width="0.3">Años</text>
<ellipse cx="132.25" cy="31.6" rx="2.3" ry="2.2" fill="none" stroke="#8a6726" stroke-width="1.6"/>
<rect x="129.4" y="35.9" width="5.7" height="1.3" fill="#8a6726"/>
<rect x="824" y="97" width="23" height="28" fill="#f2dcdb"/>
<rect x="824" y="126" width="23" height="28" fill="#f2dcdb"/>
<path d="M813.5 98.5 H818.9 V153.5 H813.5" fill="none" stroke="#00b0f0" stroke-width="1.3" stroke-dasharray="3.2 1.3"/>
<path d="M818.9 125.3 H823.8" fill="none" stroke="#00b0f0" stroke-width="1.4"/>
<text transform="translate(803.00,124.60) scale(0.68,1)" font-size="8.4" text-anchor="middle" font-weight="bold" fill="#111" stroke="#111" stroke-width="0.2">665,8</text>
<text transform="translate(803.20,135.40) scale(0.68,1)" font-size="8.4" text-anchor="middle" font-weight="bold" fill="#111" stroke="#111" stroke-width="0.2">mil</text>
<text transform="translate(835.20,108.60) scale(0.68,1)" font-size="8.2" text-anchor="middle" font-weight="bold" fill="#111" stroke="#111" stroke-width="0.2">L.S:</text>
<text transform="translate(836.00,117.60) scale(0.62,1)" font-size="8.2" text-anchor="middle" font-weight="bold" fill="#111" stroke="#111" stroke-width="0.2">16,9</text>
<text transform="translate(835.20,138.20) scale(0.68,1)" font-size="8.2" text-anchor="middle" font-weight="bold" fill="#111" stroke="#111" stroke-width="0.2">L.I.:</text>
<text transform="translate(836.00,146.50) scale(0.62,1)" font-size="8.2" text-anchor="middle" font-weight="bold" fill="#111" stroke="#111" stroke-width="0.2">14,3</text>
<text transform="translate(25.00,494.00) scale(0.812,1)" font-size="10.8" text-anchor="start" font-weight="bold" fill="#0d0d0d" stroke="#0d0d0d" stroke-width="0.15">Fuente: Instituto Nacional de Estadística e Informática -Encuesta Permanente de Empleo.</text>
</svg>
</body></html>
